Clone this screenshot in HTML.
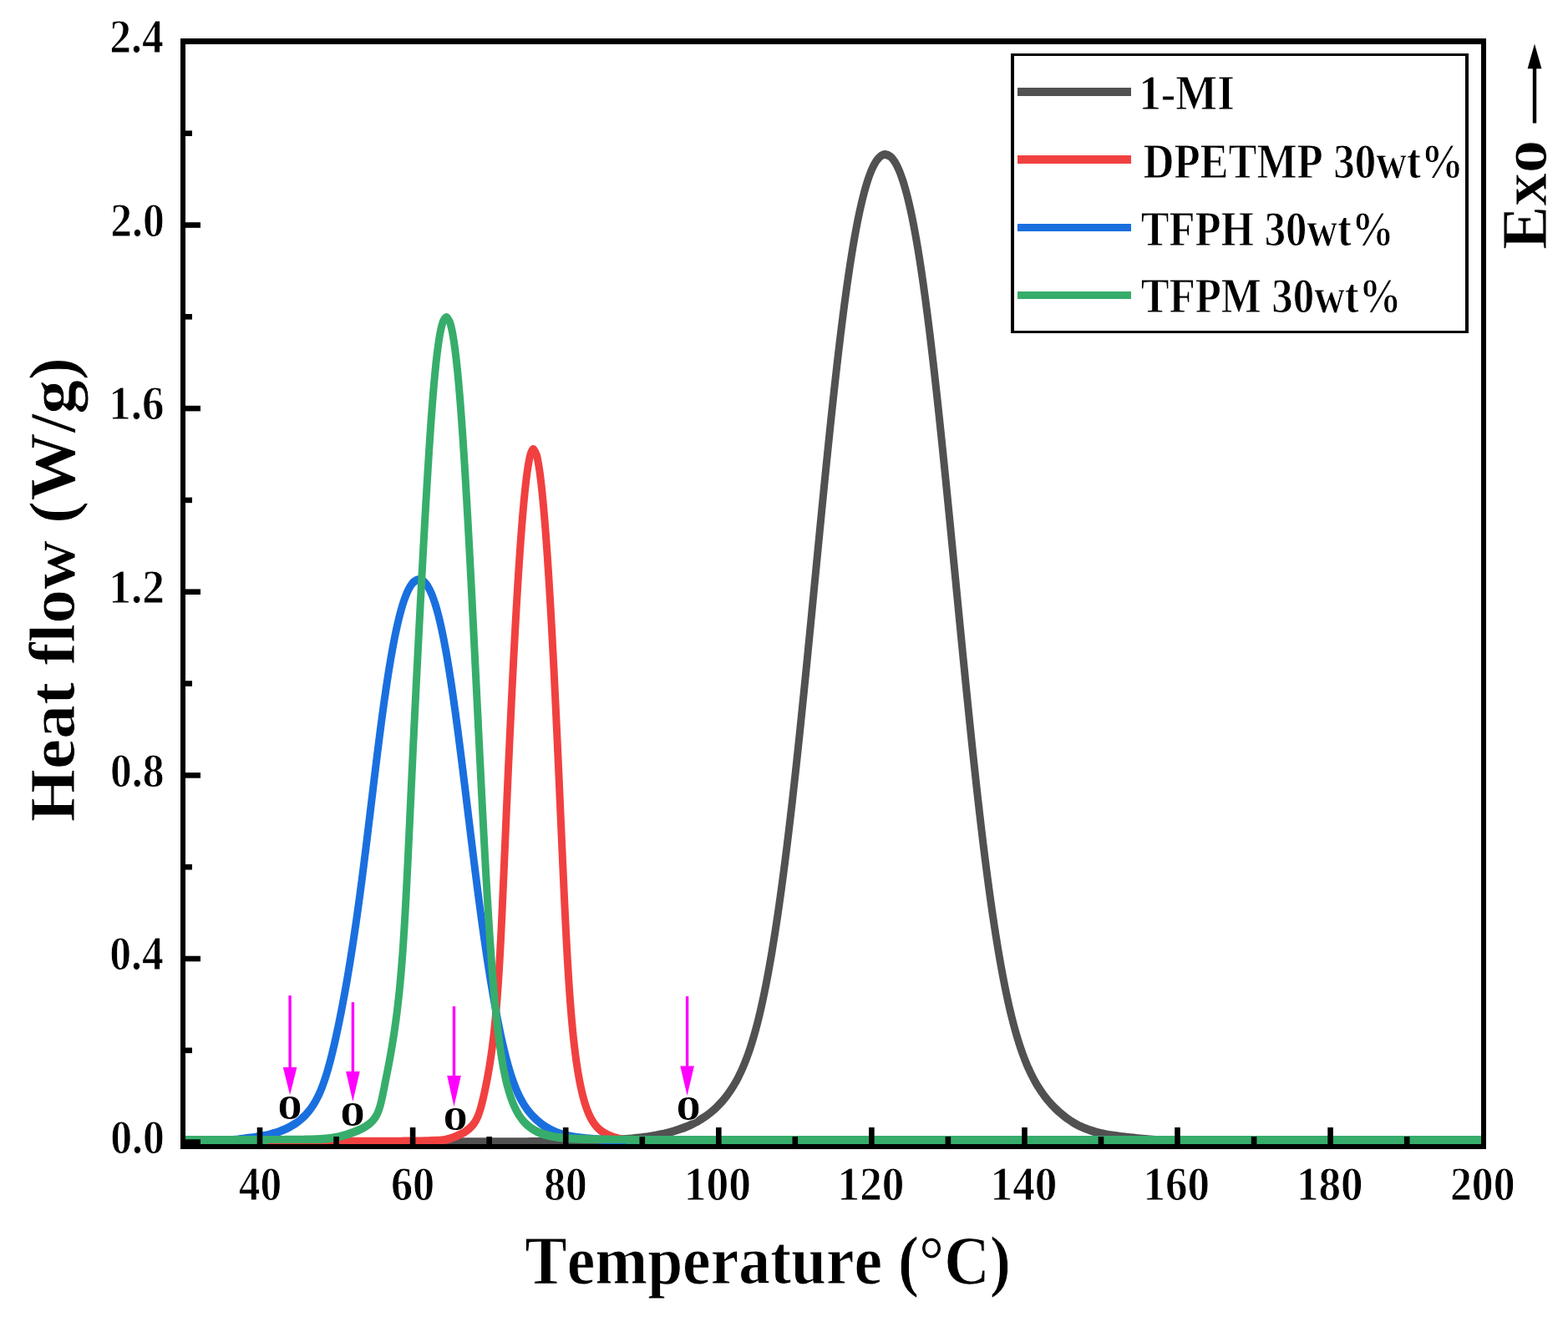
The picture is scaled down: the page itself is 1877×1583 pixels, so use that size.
<!DOCTYPE html>
<html lang="en">
<head>
<meta charset="utf-8">
<title>DSC heat flow curves</title>
<style>
html,body{margin:0;padding:0;background:#fff;}
body{width:1877px;height:1583px;overflow:hidden;}
svg{display:block;}
text{font-family:"Liberation Serif", serif;font-weight:bold;fill:#000;font-kerning:none;font-variant-ligatures:none;}
</style>
</head>
<body>
<svg width="1877" height="1583" viewBox="0 0 1877 1583">
<rect x="0" y="0" width="1877" height="1583" fill="#fff"/>
<clipPath id="plotclip"><rect x="222" y="53" width="1551" height="1320"/></clipPath>
<clipPath id="greenclip"><rect x="0" y="0" width="1877" height="1233.333"/><rect x="0" y="1233.323" width="321" height="20"/><rect x="749" y="1233.323" width="1128" height="20"/></clipPath>
<g clip-path="url(#plotclip)"><g transform="scale(1 1.1100)" fill="none" stroke-width="9.0" stroke-linejoin="round" stroke-linecap="butt">
<path stroke="#515151" d="M210.00 1231.71 C211.00 1231.71 214.00 1231.71 216.00 1231.71 C218.00 1231.71 220.01 1231.71 222.01 1231.71 C224.01 1231.71 226.01 1231.71 228.01 1231.71 C230.01 1231.71 232.01 1231.71 234.01 1231.71 C236.02 1231.71 238.02 1231.71 240.02 1231.71 C242.02 1231.71 244.02 1231.71 246.02 1231.71 C248.02 1231.71 250.02 1231.71 252.03 1231.71 C254.03 1231.71 256.03 1231.71 258.03 1231.71 C260.03 1231.71 262.03 1231.71 264.03 1231.71 C266.03 1231.71 268.03 1231.71 270.04 1231.71 C272.04 1231.71 274.04 1231.71 276.04 1231.71 C278.04 1231.71 280.04 1231.71 282.04 1231.71 C284.04 1231.71 286.05 1231.71 288.05 1231.71 C290.05 1231.71 292.05 1231.71 294.05 1231.71 C296.05 1231.71 298.05 1231.71 300.05 1231.71 C302.06 1231.71 304.06 1231.71 306.06 1231.71 C308.06 1231.71 310.06 1231.71 312.06 1231.71 C314.06 1231.71 316.06 1231.71 318.07 1231.71 C320.07 1231.71 322.07 1231.71 324.07 1231.71 C326.07 1231.71 328.07 1231.71 330.07 1231.71 C332.07 1231.71 334.07 1231.71 336.08 1231.71 C338.08 1231.71 340.08 1231.71 342.08 1231.71 C344.08 1231.71 346.08 1231.71 348.08 1231.71 C350.08 1231.71 352.09 1231.71 354.09 1231.71 C356.09 1231.71 358.09 1231.71 360.09 1231.71 C362.09 1231.71 364.09 1231.71 366.09 1231.71 C368.10 1231.71 370.10 1231.71 372.10 1231.71 C374.10 1231.71 376.10 1231.71 378.10 1231.71 C380.10 1231.71 382.10 1231.71 384.10 1231.71 C386.11 1231.71 388.11 1231.71 390.11 1231.71 C392.11 1231.71 394.11 1231.71 396.11 1231.71 C398.11 1231.71 400.11 1231.71 402.12 1231.71 C404.12 1231.71 406.12 1231.71 408.12 1231.71 C410.12 1231.71 412.12 1231.71 414.12 1231.71 C416.12 1231.71 418.13 1231.71 420.13 1231.71 C422.13 1231.71 424.13 1231.71 426.13 1231.71 C428.13 1231.71 430.13 1231.71 432.13 1231.71 C434.13 1231.71 436.14 1231.71 438.14 1231.71 C440.14 1231.71 442.14 1231.71 444.14 1231.71 C446.14 1231.71 448.14 1231.71 450.14 1231.71 C452.15 1231.71 454.15 1231.71 456.15 1231.71 C458.15 1231.71 460.15 1231.71 462.15 1231.71 C464.15 1231.71 466.15 1231.71 468.16 1231.71 C470.16 1231.71 472.16 1231.71 474.16 1231.71 C476.16 1231.71 478.16 1231.71 480.16 1231.71 C482.16 1231.71 484.16 1231.71 486.17 1231.71 C488.17 1231.71 490.17 1231.71 492.17 1231.71 C494.17 1231.71 496.17 1231.71 498.17 1231.71 C500.17 1231.71 502.18 1231.71 504.18 1231.71 C506.18 1231.71 508.18 1231.71 510.18 1231.71 C512.18 1231.71 514.18 1231.71 516.18 1231.71 C518.19 1231.71 520.19 1231.71 522.19 1231.71 C524.19 1231.71 526.19 1231.71 528.19 1231.71 C530.19 1231.71 532.19 1231.71 534.20 1231.71 C536.20 1231.71 538.20 1231.71 540.20 1231.71 C542.20 1231.71 544.20 1231.71 546.20 1231.71 C548.20 1231.71 550.20 1231.71 552.21 1231.71 C554.21 1231.71 556.21 1231.71 558.21 1231.71 C560.21 1231.71 562.21 1231.71 564.21 1231.71 C566.21 1231.71 568.22 1231.71 570.22 1231.71 C572.22 1231.71 574.22 1231.71 576.22 1231.71 C578.22 1231.71 580.22 1231.71 582.22 1231.71 C584.23 1231.71 586.23 1231.71 588.23 1231.71 C590.23 1231.71 592.23 1231.71 594.23 1231.71 C596.23 1231.71 598.23 1231.71 600.23 1231.71 C602.24 1231.71 604.24 1231.71 606.24 1231.71 C608.24 1231.71 610.24 1231.71 612.24 1231.71 C614.24 1231.71 616.24 1231.71 618.25 1231.71 C620.25 1231.71 622.25 1231.71 624.25 1231.70 C626.25 1231.69 628.25 1231.67 630.25 1231.65 C632.25 1231.63 634.25 1231.61 636.26 1231.59 C638.26 1231.58 640.26 1231.56 642.26 1231.54 C644.26 1231.52 646.26 1231.50 648.26 1231.49 C650.26 1231.47 652.26 1231.45 654.27 1231.43 C656.27 1231.42 658.27 1231.40 660.27 1231.39 C662.27 1231.37 664.27 1231.35 666.27 1231.34 C668.27 1231.32 670.28 1231.30 672.28 1231.28 C674.28 1231.25 676.28 1231.23 678.28 1231.20 C680.28 1231.18 682.28 1231.15 684.28 1231.12 C686.28 1231.09 688.28 1231.06 690.29 1231.03 C692.29 1231.00 694.29 1230.96 696.29 1230.92 C698.29 1230.88 700.29 1230.84 702.29 1230.80 C704.29 1230.75 706.29 1230.70 708.29 1230.65 C710.29 1230.60 712.29 1230.55 714.29 1230.49 C716.29 1230.43 718.29 1230.36 720.29 1230.29 C722.29 1230.22 724.29 1230.15 726.29 1230.07 C728.29 1229.99 730.29 1229.90 732.29 1229.81 C734.29 1229.72 736.29 1229.62 738.29 1229.52 C740.29 1229.41 742.28 1229.30 744.28 1229.17 C746.28 1229.05 748.28 1228.92 750.27 1228.77 C752.27 1228.63 754.26 1228.48 756.26 1228.31 C758.25 1228.14 760.25 1227.97 762.24 1227.77 C764.23 1227.58 766.22 1227.37 768.21 1227.15 C770.20 1226.92 772.18 1226.68 774.17 1226.43 C776.15 1226.17 778.13 1225.89 780.11 1225.60 C782.09 1225.30 784.07 1224.99 786.04 1224.65 C788.01 1224.31 789.98 1223.95 791.95 1223.57 C793.91 1223.18 795.87 1222.78 797.83 1222.35 C799.78 1221.91 801.73 1221.46 803.67 1220.97 C805.61 1220.48 807.54 1219.96 809.47 1219.42 C811.39 1218.87 813.31 1218.29 815.21 1217.67 C817.12 1217.06 819.01 1216.41 820.89 1215.72 C822.77 1215.03 824.64 1214.31 826.48 1213.54 C828.33 1212.77 830.16 1211.97 831.97 1211.12 C833.79 1210.27 835.58 1209.37 837.35 1208.44 C839.11 1207.50 840.86 1206.52 842.57 1205.49 C844.29 1204.46 845.98 1203.38 847.63 1202.25 C849.29 1201.13 850.91 1199.96 852.50 1198.75 C854.10 1197.54 855.67 1196.29 857.19 1194.99 C858.71 1193.70 860.19 1192.35 861.64 1190.96 C863.08 1189.58 864.50 1188.17 865.87 1186.71 C867.24 1185.25 868.57 1183.75 869.86 1182.22 C871.15 1180.69 872.40 1179.13 873.61 1177.54 C874.82 1175.95 876.00 1174.32 877.14 1172.68 C878.27 1171.03 879.37 1169.36 880.44 1167.66 C881.50 1165.97 882.53 1164.25 883.52 1162.52 C884.52 1160.78 885.48 1159.02 886.41 1157.25 C887.34 1155.48 888.23 1153.69 889.10 1151.89 C889.98 1150.09 890.81 1148.27 891.63 1146.44 C892.45 1144.61 893.23 1142.77 894.00 1140.93 C894.77 1139.08 895.51 1137.22 896.24 1135.35 C896.96 1133.49 897.66 1131.61 898.34 1129.73 C899.02 1127.85 899.69 1125.96 900.33 1124.07 C900.98 1122.18 901.61 1120.28 902.23 1118.37 C902.85 1116.47 903.45 1114.56 904.03 1112.65 C904.62 1110.73 905.19 1108.82 905.75 1106.89 C906.31 1104.97 906.86 1103.05 907.40 1101.12 C907.94 1099.19 908.46 1097.26 908.98 1095.33 C909.50 1093.40 910.00 1091.46 910.50 1089.52 C910.99 1087.58 911.48 1085.64 911.96 1083.70 C912.44 1081.75 912.91 1079.81 913.37 1077.86 C913.83 1075.92 914.29 1073.97 914.74 1072.02 C915.18 1070.07 915.62 1068.11 916.06 1066.16 C916.49 1064.21 916.92 1062.25 917.34 1060.30 C917.76 1058.34 918.18 1056.38 918.59 1054.42 C919.00 1052.46 919.40 1050.50 919.80 1048.54 C920.20 1046.58 920.60 1044.62 920.98 1042.66 C921.37 1040.69 921.76 1038.73 922.14 1036.77 C922.52 1034.80 922.90 1032.83 923.27 1030.87 C923.64 1028.90 924.01 1026.93 924.37 1024.97 C924.73 1023.00 925.09 1021.03 925.45 1019.06 C925.81 1017.09 926.16 1015.12 926.51 1013.15 C926.86 1011.18 927.20 1009.21 927.55 1007.24 C927.89 1005.27 928.23 1003.29 928.57 1001.32 C928.90 999.35 929.24 997.38 929.57 995.40 C929.90 993.43 930.23 991.45 930.55 989.48 C930.88 987.51 931.20 985.53 931.52 983.55 C931.84 981.58 932.16 979.60 932.47 977.63 C932.78 975.65 933.10 973.67 933.41 971.70 C933.72 969.72 934.02 967.74 934.33 965.76 C934.63 963.79 934.94 961.81 935.24 959.83 C935.54 957.85 935.84 955.87 936.13 953.89 C936.43 951.91 936.72 949.94 937.02 947.96 C937.31 945.98 937.60 944.00 937.89 942.02 C938.18 940.04 938.46 938.06 938.75 936.07 C939.03 934.09 939.32 932.11 939.60 930.13 C939.88 928.15 940.16 926.17 940.44 924.19 C940.72 922.20 940.99 920.22 941.27 918.24 C941.54 916.26 941.82 914.28 942.09 912.29 C942.36 910.31 942.63 908.33 942.90 906.34 C943.17 904.36 943.44 902.38 943.70 900.39 C943.97 898.41 944.23 896.43 944.50 894.44 C944.76 892.46 945.02 890.48 945.28 888.49 C945.54 886.51 945.80 884.52 946.06 882.54 C946.32 880.55 946.58 878.57 946.83 876.59 C947.09 874.60 947.35 872.62 947.60 870.63 C947.85 868.65 948.11 866.66 948.36 864.68 C948.61 862.69 948.86 860.70 949.11 858.72 C949.36 856.73 949.61 854.75 949.85 852.76 C950.10 850.78 950.35 848.79 950.59 846.80 C950.84 844.82 951.08 842.83 951.33 840.85 C951.57 838.86 951.81 836.87 952.06 834.89 C952.30 832.90 952.54 830.91 952.78 828.93 C953.02 826.94 953.26 824.95 953.50 822.97 C953.73 820.98 953.97 818.99 954.21 817.00 C954.45 815.02 954.68 813.03 954.92 811.04 C955.15 809.06 955.39 807.07 955.62 805.08 C955.86 803.09 956.09 801.11 956.32 799.12 C956.56 797.13 956.79 795.14 957.02 793.15 C957.25 791.17 957.48 789.18 957.71 787.19 C957.94 785.20 958.17 783.22 958.40 781.23 C958.63 779.24 958.86 777.25 959.09 775.26 C959.31 773.27 959.54 771.29 959.77 769.30 C960.00 767.31 960.22 765.32 960.45 763.33 C960.67 761.34 960.90 759.36 961.12 757.37 C961.35 755.38 961.57 753.39 961.80 751.40 C962.02 749.41 962.24 747.42 962.47 745.44 C962.69 743.45 962.91 741.46 963.14 739.47 C963.36 737.48 963.58 735.49 963.80 733.50 C964.02 731.51 964.24 729.53 964.47 727.54 C964.69 725.55 964.91 723.56 965.13 721.57 C965.35 719.58 965.57 717.59 965.79 715.60 C966.01 713.61 966.22 711.62 966.44 709.63 C966.66 707.65 966.88 705.66 967.10 703.67 C967.32 701.68 967.54 699.69 967.75 697.70 C967.97 695.71 968.19 693.72 968.41 691.73 C968.62 689.74 968.84 687.75 969.06 685.76 C969.28 683.77 969.49 681.78 969.71 679.79 C969.92 677.80 970.14 675.82 970.36 673.83 C970.57 671.84 970.79 669.85 971.01 667.86 C971.22 665.87 971.44 663.88 971.65 661.89 C971.87 659.90 972.08 657.91 972.30 655.92 C972.51 653.93 972.73 651.94 972.95 649.95 C973.16 647.96 973.38 645.97 973.59 643.98 C973.81 641.99 974.02 640.00 974.24 638.01 C974.45 636.02 974.67 634.03 974.88 632.04 C975.09 630.06 975.31 628.07 975.52 626.08 C975.74 624.09 975.95 622.10 976.17 620.11 C976.38 618.12 976.60 616.13 976.81 614.14 C977.03 612.15 977.24 610.16 977.46 608.17 C977.67 606.18 977.89 604.19 978.10 602.20 C978.32 600.21 978.53 598.22 978.75 596.23 C978.96 594.24 979.18 592.25 979.39 590.26 C979.61 588.27 979.82 586.28 980.04 584.29 C980.26 582.30 980.47 580.31 980.69 578.33 C980.90 576.34 981.12 574.35 981.34 572.36 C981.55 570.37 981.77 568.38 981.98 566.39 C982.20 564.40 982.42 562.41 982.64 560.42 C982.85 558.43 983.07 556.44 983.29 554.45 C983.50 552.46 983.72 550.47 983.94 548.48 C984.16 546.49 984.38 544.51 984.59 542.52 C984.81 540.53 985.03 538.54 985.25 536.55 C985.47 534.56 985.69 532.57 985.91 530.58 C986.13 528.59 986.35 526.60 986.57 524.61 C986.79 522.62 987.01 520.64 987.23 518.65 C987.45 516.66 987.67 514.67 987.90 512.68 C988.12 510.69 988.34 508.70 988.56 506.71 C988.79 504.73 989.01 502.74 989.23 500.75 C989.46 498.76 989.68 496.77 989.91 494.78 C990.13 492.79 990.36 490.80 990.58 488.82 C990.81 486.83 991.03 484.84 991.26 482.85 C991.49 480.86 991.71 478.87 991.94 476.89 C992.17 474.90 992.40 472.91 992.63 470.92 C992.86 468.93 993.09 466.95 993.32 464.96 C993.55 462.97 993.78 460.98 994.01 458.99 C994.24 457.01 994.48 455.02 994.71 453.03 C994.94 451.04 995.18 449.06 995.41 447.07 C995.65 445.08 995.88 443.09 996.12 441.11 C996.36 439.12 996.59 437.13 996.83 435.15 C997.07 433.16 997.31 431.17 997.55 429.19 C997.79 427.20 998.03 425.21 998.27 423.23 C998.51 421.24 998.76 419.25 999.00 417.27 C999.24 415.28 999.49 413.29 999.73 411.31 C999.98 409.32 1000.23 407.34 1000.48 405.35 C1000.72 403.36 1000.97 401.38 1001.22 399.39 C1001.47 397.41 1001.73 395.42 1001.98 393.44 C1002.23 391.45 1002.49 389.47 1002.74 387.48 C1003.00 385.50 1003.25 383.51 1003.51 381.53 C1003.77 379.54 1004.03 377.56 1004.29 375.58 C1004.55 373.59 1004.82 371.61 1005.08 369.62 C1005.34 367.64 1005.61 365.66 1005.88 363.67 C1006.15 361.69 1006.41 359.71 1006.69 357.73 C1006.96 355.74 1007.23 353.76 1007.50 351.78 C1007.78 349.80 1008.05 347.81 1008.33 345.83 C1008.61 343.85 1008.89 341.87 1009.17 339.89 C1009.46 337.91 1009.74 335.92 1010.03 333.94 C1010.31 331.96 1010.60 329.98 1010.90 328.00 C1011.19 326.02 1011.48 324.04 1011.78 322.07 C1012.07 320.09 1012.37 318.11 1012.67 316.13 C1012.98 314.15 1013.28 312.17 1013.59 310.20 C1013.90 308.22 1014.21 306.24 1014.52 304.26 C1014.83 302.29 1015.15 300.31 1015.47 298.34 C1015.79 296.36 1016.12 294.39 1016.44 292.41 C1016.77 290.44 1017.10 288.46 1017.44 286.49 C1017.77 284.52 1018.11 282.55 1018.46 280.57 C1018.80 278.60 1019.15 276.63 1019.50 274.66 C1019.85 272.69 1020.21 270.72 1020.57 268.76 C1020.93 266.79 1021.30 264.82 1021.68 262.85 C1022.05 260.89 1022.43 258.92 1022.81 256.96 C1023.20 255.00 1023.59 253.03 1023.99 251.07 C1024.39 249.11 1024.79 247.15 1025.21 245.19 C1025.62 243.24 1026.04 241.28 1026.47 239.32 C1026.90 237.37 1027.34 235.42 1027.79 233.47 C1028.23 231.52 1028.69 229.57 1029.16 227.62 C1029.63 225.68 1030.11 223.73 1030.60 221.79 C1031.10 219.86 1031.60 217.92 1032.12 215.99 C1032.64 214.05 1033.18 212.13 1033.73 210.20 C1034.29 208.28 1034.85 206.36 1035.45 204.45 C1036.04 202.54 1036.65 200.63 1037.30 198.74 C1037.94 196.84 1038.60 194.95 1039.31 193.08 C1040.01 191.21 1040.74 189.34 1041.52 187.50 C1042.31 185.66 1043.12 183.83 1044.02 182.04 C1044.92 180.26 1045.84 178.47 1046.91 176.78 C1047.97 175.10 1049.07 173.38 1050.41 171.91 C1051.74 170.44 1053.36 168.87 1054.91 167.98 C1056.46 167.09 1057.84 166.40 1059.70 166.58 C1061.56 166.76 1064.31 167.92 1066.06 169.05 C1067.80 170.19 1068.95 171.83 1070.19 173.39 C1071.42 174.95 1072.46 176.69 1073.46 178.42 C1074.46 180.14 1075.35 181.94 1076.21 183.75 C1077.07 185.56 1077.85 187.40 1078.61 189.25 C1079.36 191.11 1080.07 192.98 1080.75 194.86 C1081.44 196.74 1082.08 198.64 1082.71 200.54 C1083.33 202.44 1083.93 204.35 1084.51 206.26 C1085.09 208.18 1085.65 210.10 1086.19 212.03 C1086.73 213.95 1087.26 215.88 1087.77 217.82 C1088.28 219.75 1088.78 221.69 1089.26 223.63 C1089.75 225.58 1090.22 227.52 1090.68 229.47 C1091.14 231.41 1091.59 233.36 1092.04 235.32 C1092.48 237.27 1092.91 239.22 1093.33 241.18 C1093.76 243.13 1094.17 245.09 1094.58 247.05 C1094.99 249.01 1095.39 250.97 1095.78 252.93 C1096.18 254.89 1096.57 256.86 1096.95 258.82 C1097.33 260.79 1097.70 262.75 1098.07 264.72 C1098.44 266.69 1098.81 268.65 1099.17 270.62 C1099.52 272.59 1099.88 274.56 1100.23 276.53 C1100.58 278.50 1100.92 280.47 1101.26 282.45 C1101.60 284.42 1101.94 286.39 1102.27 288.36 C1102.60 290.34 1102.93 292.31 1103.26 294.29 C1103.58 296.26 1103.90 298.24 1104.22 300.21 C1104.54 302.19 1104.85 304.16 1105.17 306.14 C1105.48 308.12 1105.79 310.09 1106.09 312.07 C1106.40 314.05 1106.70 316.03 1107.00 318.01 C1107.30 319.99 1107.60 321.96 1107.89 323.94 C1108.19 325.92 1108.48 327.90 1108.77 329.88 C1109.06 331.86 1109.35 333.84 1109.63 335.82 C1109.92 337.80 1110.20 339.79 1110.48 341.77 C1110.76 343.75 1111.04 345.73 1111.32 347.71 C1111.59 349.69 1111.87 351.68 1112.14 353.66 C1112.42 355.64 1112.69 357.62 1112.96 359.61 C1113.23 361.59 1113.50 363.57 1113.76 365.56 C1114.03 367.54 1114.29 369.52 1114.56 371.51 C1114.82 373.49 1115.08 375.48 1115.34 377.46 C1115.60 379.44 1115.86 381.43 1116.12 383.41 C1116.38 385.40 1116.63 387.38 1116.89 389.37 C1117.14 391.35 1117.40 393.34 1117.65 395.32 C1117.90 397.31 1118.15 399.29 1118.40 401.28 C1118.65 403.26 1118.90 405.25 1119.15 407.23 C1119.40 409.22 1119.64 411.21 1119.89 413.19 C1120.13 415.18 1120.38 417.17 1120.62 419.15 C1120.87 421.14 1121.11 423.12 1121.35 425.11 C1121.59 427.10 1121.83 429.08 1122.07 431.07 C1122.31 433.06 1122.55 435.04 1122.79 437.03 C1123.03 439.02 1123.26 441.01 1123.50 442.99 C1123.74 444.98 1123.97 446.97 1124.21 448.95 C1124.44 450.94 1124.67 452.93 1124.91 454.92 C1125.14 456.90 1125.37 458.89 1125.61 460.88 C1125.84 462.87 1126.07 464.86 1126.30 466.84 C1126.53 468.83 1126.76 470.82 1126.99 472.81 C1127.22 474.80 1127.45 476.78 1127.67 478.77 C1127.90 480.76 1128.13 482.75 1128.36 484.74 C1128.58 486.72 1128.81 488.71 1129.04 490.70 C1129.26 492.69 1129.49 494.68 1129.71 496.67 C1129.94 498.66 1130.16 500.64 1130.39 502.63 C1130.61 504.62 1130.83 506.61 1131.06 508.60 C1131.28 510.59 1131.50 512.58 1131.72 514.56 C1131.95 516.55 1132.17 518.54 1132.39 520.53 C1132.61 522.52 1132.83 524.51 1133.05 526.50 C1133.27 528.49 1133.49 530.48 1133.71 532.47 C1133.93 534.45 1134.15 536.44 1134.37 538.43 C1134.59 540.42 1134.81 542.41 1135.03 544.40 C1135.25 546.39 1135.47 548.38 1135.69 550.37 C1135.90 552.36 1136.12 554.35 1136.34 556.34 C1136.56 558.33 1136.78 560.31 1136.99 562.30 C1137.21 564.29 1137.43 566.28 1137.64 568.27 C1137.86 570.26 1138.08 572.25 1138.30 574.24 C1138.51 576.23 1138.73 578.22 1138.94 580.21 C1139.16 582.20 1139.38 584.19 1139.59 586.18 C1139.81 588.17 1140.02 590.16 1140.24 592.15 C1140.46 594.14 1140.67 596.12 1140.89 598.11 C1141.10 600.10 1141.32 602.09 1141.53 604.08 C1141.75 606.07 1141.96 608.06 1142.18 610.05 C1142.40 612.04 1142.61 614.03 1142.83 616.02 C1143.04 618.01 1143.26 620.00 1143.47 621.99 C1143.69 623.98 1143.90 625.97 1144.12 627.96 C1144.33 629.95 1144.55 631.94 1144.76 633.93 C1144.98 635.92 1145.19 637.91 1145.41 639.90 C1145.62 641.89 1145.84 643.88 1146.05 645.86 C1146.27 647.85 1146.48 649.84 1146.70 651.83 C1146.92 653.82 1147.13 655.81 1147.35 657.80 C1147.56 659.79 1147.78 661.78 1147.99 663.77 C1148.21 665.76 1148.43 667.75 1148.64 669.74 C1148.86 671.73 1149.07 673.72 1149.29 675.71 C1149.51 677.70 1149.72 679.69 1149.94 681.68 C1150.16 683.67 1150.37 685.66 1150.59 687.64 C1150.81 689.63 1151.02 691.62 1151.24 693.61 C1151.46 695.60 1151.68 697.59 1151.90 699.58 C1152.11 701.57 1152.33 703.56 1152.55 705.55 C1152.77 707.54 1152.99 709.53 1153.20 711.52 C1153.42 713.51 1153.64 715.49 1153.86 717.48 C1154.08 719.47 1154.30 721.46 1154.52 723.45 C1154.74 725.44 1154.96 727.43 1155.18 729.42 C1155.40 731.41 1155.62 733.40 1155.84 735.39 C1156.07 737.37 1156.29 739.36 1156.51 741.35 C1156.73 743.34 1156.95 745.33 1157.18 747.32 C1157.40 749.31 1157.62 751.30 1157.85 753.28 C1158.07 755.27 1158.29 757.26 1158.52 759.25 C1158.74 761.24 1158.97 763.23 1159.19 765.22 C1159.42 767.20 1159.64 769.19 1159.87 771.18 C1160.09 773.17 1160.32 775.16 1160.55 777.15 C1160.78 779.13 1161.00 781.12 1161.23 783.11 C1161.46 785.10 1161.69 787.09 1161.92 789.07 C1162.15 791.06 1162.38 793.05 1162.61 795.04 C1162.84 797.03 1163.07 799.01 1163.30 801.00 C1163.54 802.99 1163.77 804.98 1164.00 806.97 C1164.23 808.95 1164.47 810.94 1164.70 812.93 C1164.94 814.91 1165.17 816.90 1165.41 818.89 C1165.65 820.88 1165.88 822.86 1166.12 824.85 C1166.36 826.84 1166.60 828.82 1166.84 830.81 C1167.08 832.80 1167.32 834.79 1167.56 836.77 C1167.80 838.76 1168.04 840.75 1168.28 842.73 C1168.52 844.72 1168.77 846.70 1169.01 848.69 C1169.26 850.68 1169.50 852.66 1169.75 854.65 C1170.00 856.63 1170.24 858.62 1170.49 860.61 C1170.74 862.59 1170.99 864.58 1171.24 866.56 C1171.49 868.55 1171.74 870.53 1172.00 872.52 C1172.25 874.50 1172.50 876.49 1172.76 878.47 C1173.01 880.46 1173.27 882.44 1173.53 884.43 C1173.78 886.41 1174.04 888.40 1174.30 890.38 C1174.56 892.37 1174.82 894.35 1175.09 896.33 C1175.35 898.32 1175.61 900.30 1175.88 902.28 C1176.14 904.27 1176.41 906.25 1176.68 908.23 C1176.95 910.22 1177.22 912.20 1177.49 914.18 C1177.76 916.17 1178.03 918.15 1178.31 920.13 C1178.58 922.11 1178.86 924.10 1179.14 926.08 C1179.42 928.06 1179.69 930.04 1179.98 932.02 C1180.26 934.00 1180.54 935.98 1180.83 937.96 C1181.11 939.95 1181.40 941.93 1181.69 943.91 C1181.97 945.89 1182.27 947.87 1182.56 949.85 C1182.85 951.83 1183.15 953.81 1183.44 955.78 C1183.74 957.76 1184.04 959.74 1184.34 961.72 C1184.64 963.70 1184.95 965.68 1185.25 967.65 C1185.56 969.63 1185.87 971.61 1186.18 973.59 C1186.49 975.56 1186.80 977.54 1187.12 979.52 C1187.43 981.49 1187.75 983.47 1188.07 985.44 C1188.40 987.42 1188.72 989.39 1189.05 991.37 C1189.37 993.34 1189.71 995.32 1190.04 997.29 C1190.37 999.26 1190.71 1001.23 1191.05 1003.21 C1191.39 1005.18 1191.73 1007.15 1192.08 1009.12 C1192.42 1011.09 1192.77 1013.06 1193.13 1015.03 C1193.48 1017.00 1193.84 1018.97 1194.20 1020.94 C1194.56 1022.91 1194.92 1024.88 1195.29 1026.84 C1195.66 1028.81 1196.04 1030.78 1196.41 1032.74 C1196.79 1034.71 1197.17 1036.67 1197.56 1038.63 C1197.95 1040.60 1198.34 1042.56 1198.74 1044.52 C1199.13 1046.48 1199.54 1048.44 1199.94 1050.40 C1200.35 1052.36 1200.76 1054.32 1201.18 1056.28 C1201.60 1058.23 1202.03 1060.19 1202.46 1062.14 C1202.89 1064.10 1203.33 1066.05 1203.77 1068.00 C1204.22 1069.95 1204.67 1071.90 1205.13 1073.85 C1205.59 1075.80 1206.06 1077.74 1206.54 1079.69 C1207.01 1081.63 1207.49 1083.57 1207.99 1085.51 C1208.48 1087.45 1208.98 1089.39 1209.50 1091.32 C1210.01 1093.26 1210.53 1095.19 1211.06 1097.12 C1211.59 1099.05 1212.14 1100.97 1212.69 1102.90 C1213.25 1104.82 1213.81 1106.74 1214.39 1108.65 C1214.97 1110.57 1215.57 1112.48 1216.17 1114.39 C1216.78 1116.29 1217.40 1118.20 1218.04 1120.09 C1218.68 1121.99 1219.33 1123.88 1220.00 1125.77 C1220.67 1127.65 1221.36 1129.53 1222.07 1131.40 C1222.77 1133.28 1223.50 1135.14 1224.25 1137.00 C1225.00 1138.85 1225.76 1140.70 1226.56 1142.54 C1227.35 1144.38 1228.16 1146.20 1229.01 1148.02 C1229.85 1149.83 1230.72 1151.64 1231.62 1153.43 C1232.52 1155.21 1233.44 1156.99 1234.40 1158.74 C1235.36 1160.50 1236.35 1162.24 1237.38 1163.96 C1238.40 1165.68 1239.45 1167.38 1240.54 1169.06 C1241.63 1170.74 1242.75 1172.40 1243.91 1174.03 C1245.07 1175.66 1246.26 1177.27 1247.49 1178.84 C1248.72 1180.42 1249.99 1181.97 1251.29 1183.49 C1252.60 1185.01 1253.93 1186.50 1255.30 1187.96 C1256.67 1189.42 1258.08 1190.85 1259.52 1192.23 C1260.96 1193.62 1262.44 1194.97 1263.95 1196.28 C1265.46 1197.60 1266.99 1198.89 1268.56 1200.13 C1270.13 1201.37 1271.74 1202.56 1273.37 1203.72 C1274.99 1204.89 1276.64 1206.02 1278.33 1207.10 C1280.01 1208.18 1281.73 1209.22 1283.47 1210.20 C1285.21 1211.18 1286.98 1212.12 1288.78 1213.00 C1290.58 1213.88 1292.40 1214.71 1294.25 1215.48 C1296.09 1216.25 1297.96 1216.97 1299.85 1217.64 C1301.73 1218.31 1303.64 1218.92 1305.56 1219.49 C1307.48 1220.06 1309.41 1220.58 1311.35 1221.06 C1313.29 1221.54 1315.25 1221.97 1317.21 1222.38 C1319.17 1222.79 1321.14 1223.15 1323.11 1223.49 C1325.08 1223.84 1327.06 1224.14 1329.04 1224.44 C1331.02 1224.73 1333.00 1225.00 1334.98 1225.26 C1336.97 1225.52 1338.95 1225.76 1340.94 1225.99 C1342.93 1226.21 1344.92 1226.43 1346.91 1226.63 C1348.90 1226.84 1350.89 1227.03 1352.89 1227.22 C1354.88 1227.41 1356.87 1227.58 1358.87 1227.76 C1360.86 1227.93 1362.85 1228.09 1364.85 1228.26 C1366.84 1228.42 1368.84 1228.57 1370.83 1228.73 C1372.83 1228.89 1374.82 1229.04 1376.82 1229.19 C1378.81 1229.35 1380.81 1229.53 1382.80 1229.69 C1384.80 1229.85 1386.79 1230.02 1388.79 1230.15 C1390.78 1230.29 1392.78 1230.39 1394.78 1230.48 C1396.78 1230.58 1398.78 1230.67 1400.78 1230.75 C1402.78 1230.83 1404.78 1230.90 1406.78 1230.96 C1408.78 1231.03 1410.78 1231.08 1412.78 1231.13 C1414.78 1231.18 1416.78 1231.22 1418.78 1231.26 C1420.78 1231.30 1422.78 1231.33 1424.79 1231.36 C1426.79 1231.39 1428.79 1231.42 1430.79 1231.45 C1432.79 1231.47 1434.79 1231.48 1436.79 1231.50 C1438.79 1231.52 1440.79 1231.54 1442.79 1231.55 C1444.80 1231.57 1446.80 1231.59 1448.80 1231.61 C1450.80 1231.63 1452.80 1231.65 1454.80 1231.66 C1456.80 1231.68 1458.80 1231.70 1460.80 1231.71 C1462.81 1231.72 1464.81 1231.71 1466.81 1231.71 C1468.81 1231.71 1470.81 1231.71 1472.81 1231.71 C1474.81 1231.71 1476.81 1231.71 1478.82 1231.71 C1480.82 1231.71 1482.82 1231.71 1484.82 1231.71 C1486.82 1231.71 1488.82 1231.71 1490.82 1231.71 C1492.82 1231.71 1494.83 1231.71 1496.83 1231.71 C1498.83 1231.71 1500.83 1231.71 1502.83 1231.71 C1504.83 1231.71 1506.83 1231.71 1508.83 1231.71 C1510.84 1231.71 1512.84 1231.71 1514.84 1231.71 C1516.84 1231.71 1518.84 1231.71 1520.84 1231.71 C1522.84 1231.71 1524.84 1231.71 1526.84 1231.71 C1528.85 1231.71 1530.85 1231.71 1532.85 1231.71 C1534.85 1231.71 1536.85 1231.71 1538.85 1231.71 C1540.85 1231.71 1542.85 1231.71 1544.86 1231.71 C1546.86 1231.71 1548.86 1231.71 1550.86 1231.71 C1552.86 1231.71 1554.86 1231.71 1556.86 1231.71 C1558.86 1231.71 1560.87 1231.71 1562.87 1231.71 C1564.87 1231.71 1566.87 1231.71 1568.87 1231.71 C1570.87 1231.71 1572.87 1231.71 1574.87 1231.71 C1576.87 1231.71 1578.88 1231.71 1580.88 1231.71 C1582.88 1231.71 1584.88 1231.71 1586.88 1231.71 C1588.88 1231.71 1590.88 1231.71 1592.88 1231.71 C1594.89 1231.71 1596.89 1231.71 1598.89 1231.71 C1600.89 1231.71 1602.89 1231.71 1604.89 1231.71 C1606.89 1231.71 1608.89 1231.71 1610.90 1231.71 C1612.90 1231.71 1614.90 1231.71 1616.90 1231.71 C1618.90 1231.71 1620.90 1231.71 1622.90 1231.71 C1624.90 1231.71 1626.90 1231.71 1628.91 1231.71 C1630.91 1231.71 1632.91 1231.71 1634.91 1231.71 C1636.91 1231.71 1638.91 1231.71 1640.91 1231.71 C1642.91 1231.71 1644.92 1231.71 1646.92 1231.71 C1648.92 1231.71 1650.92 1231.71 1652.92 1231.71 C1654.92 1231.71 1656.92 1231.71 1658.92 1231.71 C1660.93 1231.71 1662.93 1231.71 1664.93 1231.71 C1666.93 1231.71 1668.93 1231.71 1670.93 1231.71 C1672.93 1231.71 1674.93 1231.71 1676.93 1231.71 C1678.94 1231.71 1680.94 1231.71 1682.94 1231.71 C1684.94 1231.71 1686.94 1231.71 1688.94 1231.71 C1690.94 1231.71 1692.94 1231.71 1694.95 1231.71 C1696.95 1231.71 1698.95 1231.71 1700.95 1231.71 C1702.95 1231.71 1704.95 1231.71 1706.95 1231.71 C1708.95 1231.71 1710.96 1231.71 1712.96 1231.71 C1714.96 1231.71 1716.96 1231.71 1718.96 1231.71 C1720.96 1231.71 1722.96 1231.71 1724.96 1231.71 C1726.97 1231.71 1728.97 1231.71 1730.97 1231.71 C1732.97 1231.71 1734.97 1231.71 1736.97 1231.71 C1738.97 1231.71 1740.97 1231.71 1742.97 1231.71 C1744.98 1231.71 1746.98 1231.71 1748.98 1231.71 C1750.98 1231.71 1752.98 1231.71 1754.98 1231.71 C1756.98 1231.71 1758.98 1231.71 1760.99 1231.71 C1762.99 1231.71 1764.99 1231.71 1766.99 1231.71 C1768.99 1231.71 1770.99 1231.71 1772.99 1231.71 C1774.99 1231.71 1777.00 1231.71 1779.00 1231.71 C1781.00 1231.71 1784.00 1231.71 1785.00 1231.71"/>
<path stroke="#F14040" d="M210.00 1231.26 C211.00 1231.26 214.00 1231.26 216.00 1231.26 C218.00 1231.26 220.00 1231.26 222.00 1231.26 C224.00 1231.26 226.00 1231.26 228.00 1231.26 C230.00 1231.26 232.00 1231.26 234.00 1231.26 C236.00 1231.26 238.00 1231.26 240.00 1231.26 C242.00 1231.26 244.00 1231.26 246.00 1231.26 C248.00 1231.26 250.00 1231.26 252.00 1231.26 C254.00 1231.26 256.00 1231.26 258.00 1231.26 C260.00 1231.26 262.00 1231.26 264.00 1231.26 C266.00 1231.26 268.00 1231.26 270.00 1231.26 C272.00 1231.26 274.00 1231.26 276.00 1231.26 C278.00 1231.26 280.00 1231.26 282.00 1231.26 C284.00 1231.26 286.00 1231.26 288.00 1231.26 C290.00 1231.26 292.00 1231.26 294.00 1231.26 C296.00 1231.26 298.00 1231.26 300.00 1231.26 C302.00 1231.26 304.00 1231.26 306.00 1231.26 C308.00 1231.26 310.00 1231.26 312.00 1231.26 C314.00 1231.26 316.00 1231.26 318.00 1231.26 C320.00 1231.26 322.00 1231.26 324.00 1231.26 C326.00 1231.26 328.00 1231.26 330.00 1231.26 C332.00 1231.26 334.00 1231.26 336.00 1231.26 C338.00 1231.26 339.99 1231.26 341.99 1231.26 C343.99 1231.26 345.99 1231.26 347.99 1231.26 C349.99 1231.26 351.99 1231.26 353.99 1231.26 C355.99 1231.26 357.99 1231.26 359.99 1231.26 C361.99 1231.26 363.99 1231.26 365.99 1231.26 C367.99 1231.26 369.99 1231.26 371.99 1231.26 C373.99 1231.26 375.99 1231.26 377.99 1231.26 C379.99 1231.26 381.99 1231.26 383.99 1231.26 C385.99 1231.26 387.99 1231.26 389.99 1231.26 C391.99 1231.26 393.99 1231.26 395.99 1231.26 C397.99 1231.26 399.99 1231.26 401.99 1231.26 C403.99 1231.26 405.99 1231.26 407.99 1231.26 C409.99 1231.26 411.99 1231.26 413.99 1231.26 C415.99 1231.26 417.99 1231.26 419.99 1231.26 C421.99 1231.26 423.99 1231.26 425.99 1231.26 C427.99 1231.26 429.99 1231.26 431.99 1231.26 C433.99 1231.26 435.99 1231.26 437.99 1231.26 C439.99 1231.26 441.99 1231.26 443.99 1231.26 C445.99 1231.26 447.99 1231.26 449.99 1231.26 C451.99 1231.26 453.99 1231.26 455.99 1231.26 C457.99 1231.26 459.99 1231.26 461.99 1231.26 C463.99 1231.26 465.99 1231.26 467.99 1231.26 C469.99 1231.26 471.99 1231.27 473.99 1231.26 C475.99 1231.25 477.99 1231.22 479.99 1231.20 C481.99 1231.18 483.99 1231.17 485.99 1231.15 C487.99 1231.13 489.99 1231.11 491.99 1231.09 C493.99 1231.08 495.99 1231.06 497.99 1231.04 C499.99 1231.02 501.99 1231.01 503.99 1230.98 C505.99 1230.95 507.99 1230.91 509.99 1230.87 C511.99 1230.82 513.98 1230.77 515.98 1230.71 C517.98 1230.64 519.98 1230.58 521.98 1230.48 C523.98 1230.38 525.98 1230.29 527.97 1230.10 C529.96 1229.90 531.95 1229.69 533.91 1229.33 C535.88 1228.97 537.83 1228.49 539.74 1227.92 C541.66 1227.36 543.54 1226.67 545.41 1225.96 C547.28 1225.25 549.14 1224.50 550.96 1223.67 C552.78 1222.84 554.59 1221.98 556.32 1221.00 C558.06 1220.01 559.77 1218.94 561.35 1217.73 C562.94 1216.52 564.47 1215.20 565.82 1213.74 C567.17 1212.28 568.39 1210.66 569.46 1208.98 C570.53 1207.30 571.42 1205.49 572.26 1203.68 C573.09 1201.86 573.79 1199.98 574.46 1198.10 C575.14 1196.22 575.73 1194.30 576.30 1192.39 C576.88 1190.47 577.40 1188.54 577.91 1186.61 C578.43 1184.68 578.92 1182.74 579.39 1180.80 C579.87 1178.86 580.34 1176.91 580.79 1174.96 C581.24 1173.01 581.69 1171.06 582.12 1169.11 C582.55 1167.16 582.97 1165.20 583.37 1163.24 C583.78 1161.29 584.17 1159.32 584.56 1157.36 C584.94 1155.40 585.31 1153.43 585.67 1151.47 C586.03 1149.50 586.38 1147.53 586.72 1145.56 C587.06 1143.59 587.39 1141.62 587.71 1139.64 C588.03 1137.67 588.33 1135.69 588.64 1133.71 C588.94 1131.74 589.23 1129.76 589.51 1127.78 C589.79 1125.80 590.06 1123.82 590.33 1121.83 C590.59 1119.85 590.85 1117.87 591.10 1115.88 C591.35 1113.90 591.59 1111.92 591.83 1109.93 C592.06 1107.94 592.29 1105.96 592.51 1103.97 C592.73 1101.98 592.95 1099.99 593.16 1098.00 C593.37 1096.01 593.57 1094.02 593.76 1092.03 C593.96 1090.04 594.15 1088.05 594.34 1086.06 C594.52 1084.07 594.70 1082.08 594.87 1080.09 C595.05 1078.09 595.22 1076.10 595.38 1074.11 C595.55 1072.12 595.71 1070.12 595.86 1068.13 C596.02 1066.13 596.17 1064.14 596.32 1062.15 C596.47 1060.15 596.62 1058.16 596.76 1056.16 C596.90 1054.17 597.04 1052.17 597.18 1050.18 C597.31 1048.18 597.45 1046.19 597.58 1044.19 C597.71 1042.19 597.84 1040.20 597.97 1038.20 C598.09 1036.21 598.22 1034.21 598.34 1032.22 C598.46 1030.22 598.58 1028.22 598.70 1026.23 C598.82 1024.23 598.94 1022.23 599.05 1020.24 C599.17 1018.24 599.28 1016.24 599.40 1014.25 C599.51 1012.25 599.62 1010.25 599.73 1008.26 C599.84 1006.26 599.95 1004.26 600.06 1002.27 C600.17 1000.27 600.27 998.27 600.38 996.27 C600.48 994.28 600.59 992.28 600.69 990.28 C600.80 988.29 600.90 986.29 601.00 984.29 C601.10 982.29 601.21 980.30 601.31 978.30 C601.41 976.30 601.51 974.30 601.61 972.31 C601.71 970.31 601.81 968.31 601.91 966.31 C602.00 964.32 602.10 962.32 602.20 960.32 C602.30 958.32 602.39 956.33 602.49 954.33 C602.59 952.33 602.69 950.33 602.78 948.34 C602.88 946.34 602.97 944.34 603.07 942.34 C603.17 940.35 603.26 938.35 603.36 936.35 C603.45 934.35 603.55 932.36 603.64 930.36 C603.74 928.36 603.83 926.36 603.93 924.36 C604.02 922.37 604.12 920.37 604.21 918.37 C604.31 916.37 604.40 914.38 604.50 912.38 C604.59 910.38 604.69 908.38 604.78 906.39 C604.88 904.39 604.97 902.39 605.06 900.39 C605.16 898.40 605.25 896.40 605.35 894.40 C605.44 892.40 605.54 890.40 605.63 888.41 C605.73 886.41 605.83 884.41 605.92 882.41 C606.02 880.42 606.11 878.42 606.21 876.42 C606.30 874.42 606.40 872.43 606.50 870.43 C606.59 868.43 606.69 866.43 606.79 864.44 C606.88 862.44 606.98 860.44 607.08 858.44 C607.17 856.45 607.27 854.45 607.37 852.45 C607.47 850.45 607.56 848.45 607.66 846.46 C607.76 844.46 607.86 842.46 607.96 840.46 C608.06 838.47 608.16 836.47 608.26 834.47 C608.35 832.47 608.45 830.48 608.55 828.48 C608.65 826.48 608.75 824.49 608.85 822.49 C608.95 820.49 609.05 818.49 609.15 816.50 C609.26 814.50 609.36 812.50 609.46 810.50 C609.56 808.51 609.66 806.51 609.76 804.51 C609.87 802.51 609.97 800.52 610.07 798.52 C610.17 796.52 610.28 794.53 610.38 792.53 C610.48 790.53 610.59 788.53 610.69 786.54 C610.79 784.54 610.90 782.54 611.00 780.54 C611.11 778.55 611.21 776.55 611.32 774.55 C611.42 772.56 611.53 770.56 611.63 768.56 C611.74 766.56 611.85 764.57 611.95 762.57 C612.06 760.57 612.17 758.58 612.27 756.58 C612.38 754.58 612.49 752.59 612.60 750.59 C612.71 748.59 612.82 746.59 612.92 744.60 C613.03 742.60 613.14 740.60 613.25 738.61 C613.36 736.61 613.47 734.61 613.59 732.62 C613.70 730.62 613.81 728.62 613.92 726.63 C614.03 724.63 614.14 722.63 614.26 720.64 C614.37 718.64 614.48 716.64 614.60 714.65 C614.71 712.65 614.83 710.65 614.94 708.66 C615.06 706.66 615.17 704.66 615.29 702.67 C615.41 700.67 615.52 698.67 615.64 696.68 C615.76 694.68 615.88 692.68 616.00 690.69 C616.11 688.69 616.23 686.69 616.35 684.70 C616.47 682.70 616.60 680.71 616.72 678.71 C616.84 676.71 616.96 674.72 617.08 672.72 C617.21 670.72 617.33 668.73 617.46 666.73 C617.58 664.74 617.71 662.74 617.83 660.74 C617.96 658.75 618.09 656.75 618.21 654.76 C618.34 652.76 618.47 650.77 618.60 648.77 C618.73 646.77 618.86 644.78 618.99 642.78 C619.13 640.79 619.26 638.79 619.39 636.80 C619.53 634.80 619.66 632.81 619.80 630.81 C619.93 628.81 620.07 626.82 620.21 624.82 C620.35 622.83 620.49 620.83 620.63 618.84 C620.77 616.84 620.91 614.85 621.06 612.85 C621.20 610.86 621.35 608.87 621.49 606.87 C621.64 604.88 621.79 602.88 621.94 600.89 C622.09 598.89 622.24 596.90 622.40 594.91 C622.55 592.91 622.70 590.92 622.86 588.92 C623.02 586.93 623.18 584.94 623.34 582.94 C623.50 580.95 623.67 578.96 623.83 576.96 C624.00 574.97 624.17 572.98 624.34 570.98 C624.51 568.99 624.68 567.00 624.86 565.01 C625.03 563.02 625.21 561.02 625.40 559.03 C625.58 557.04 625.76 555.05 625.95 553.06 C626.14 551.07 626.34 549.08 626.54 547.09 C626.73 545.10 626.93 543.11 627.14 541.12 C627.35 539.13 627.56 537.14 627.78 535.15 C628.00 533.16 628.22 531.18 628.45 529.19 C628.68 527.20 628.92 525.22 629.17 523.23 C629.42 521.25 629.67 519.27 629.94 517.28 C630.21 515.30 630.48 513.32 630.78 511.34 C631.08 509.36 631.38 507.39 631.72 505.42 C632.05 503.44 632.39 501.47 632.79 499.51 C633.18 497.55 633.57 495.59 634.09 493.66 C634.61 491.73 635.16 489.43 635.91 487.95 C636.66 486.46 637.52 484.26 638.60 484.77 C639.68 485.29 641.51 489.04 642.38 491.05 C643.26 493.07 643.41 494.92 643.85 496.87 C644.29 498.82 644.65 500.79 645.01 502.75 C645.37 504.72 645.69 506.69 646.00 508.67 C646.31 510.65 646.60 512.62 646.88 514.61 C647.16 516.59 647.42 518.57 647.68 520.55 C647.94 522.53 648.18 524.52 648.42 526.50 C648.66 528.49 648.89 530.48 649.11 532.46 C649.34 534.45 649.56 536.44 649.77 538.43 C649.98 540.42 650.19 542.41 650.39 544.40 C650.60 546.39 650.79 548.38 650.99 550.37 C651.18 552.36 651.37 554.35 651.56 556.34 C651.75 558.33 651.93 560.32 652.11 562.31 C652.29 564.30 652.47 566.30 652.64 568.29 C652.82 570.28 652.99 572.27 653.16 574.27 C653.32 576.26 653.49 578.25 653.66 580.25 C653.82 582.24 653.98 584.23 654.14 586.23 C654.30 588.22 654.46 590.21 654.62 592.21 C654.77 594.20 654.93 596.19 655.08 598.19 C655.23 600.18 655.38 602.18 655.53 604.17 C655.68 606.17 655.83 608.16 655.97 610.15 C656.12 612.15 656.26 614.14 656.40 616.14 C656.55 618.13 656.69 620.13 656.83 622.12 C656.97 624.12 657.11 626.11 657.24 628.11 C657.38 630.10 657.52 632.10 657.65 634.09 C657.79 636.09 657.92 638.09 658.05 640.08 C658.18 642.08 658.32 644.07 658.45 646.07 C658.58 648.06 658.71 650.06 658.83 652.06 C658.96 654.05 659.09 656.05 659.22 658.04 C659.34 660.04 659.47 662.03 659.59 664.03 C659.72 666.03 659.84 668.02 659.96 670.02 C660.09 672.02 660.21 674.01 660.33 676.01 C660.45 678.00 660.57 680.00 660.69 682.00 C660.81 683.99 660.93 685.99 661.05 687.99 C661.17 689.98 661.29 691.98 661.40 693.97 C661.52 695.97 661.64 697.97 661.75 699.96 C661.87 701.96 661.98 703.96 662.10 705.95 C662.21 707.95 662.33 709.95 662.44 711.94 C662.55 713.94 662.67 715.94 662.78 717.93 C662.89 719.93 663.00 721.93 663.11 723.92 C663.22 725.92 663.33 727.92 663.44 729.92 C663.55 731.91 663.66 733.91 663.77 735.91 C663.88 737.90 663.99 739.90 664.10 741.90 C664.21 743.89 664.31 745.89 664.42 747.89 C664.53 749.89 664.64 751.88 664.74 753.88 C664.85 755.88 664.96 757.87 665.06 759.87 C665.17 761.87 665.27 763.87 665.38 765.86 C665.48 767.86 665.59 769.86 665.69 771.85 C665.80 773.85 665.90 775.85 666.00 777.85 C666.11 779.84 666.21 781.84 666.31 783.84 C666.42 785.83 666.52 787.83 666.62 789.83 C666.72 791.83 666.83 793.82 666.93 795.82 C667.03 797.82 667.13 799.82 667.23 801.81 C667.33 803.81 667.43 805.81 667.53 807.81 C667.64 809.80 667.74 811.80 667.84 813.80 C667.94 815.79 668.04 817.79 668.14 819.79 C668.24 821.79 668.34 823.78 668.44 825.78 C668.54 827.78 668.64 829.78 668.73 831.77 C668.83 833.77 668.93 835.77 669.03 837.77 C669.13 839.76 669.23 841.76 669.33 843.76 C669.43 845.76 669.52 847.75 669.62 849.75 C669.72 851.75 669.82 853.75 669.92 855.74 C670.02 857.74 670.11 859.74 670.21 861.74 C670.31 863.73 670.41 865.73 670.50 867.73 C670.60 869.73 670.70 871.72 670.80 873.72 C670.90 875.72 670.99 877.72 671.09 879.71 C671.19 881.71 671.29 883.71 671.38 885.71 C671.48 887.70 671.58 889.70 671.68 891.70 C671.77 893.70 671.87 895.69 671.97 897.69 C672.07 899.69 672.16 901.69 672.26 903.68 C672.36 905.68 672.46 907.68 672.56 909.68 C672.65 911.67 672.75 913.67 672.85 915.67 C672.95 917.67 673.05 919.66 673.15 921.66 C673.25 923.66 673.34 925.66 673.44 927.65 C673.54 929.65 673.64 931.65 673.74 933.65 C673.84 935.64 673.94 937.64 674.04 939.64 C674.14 941.64 674.24 943.63 674.34 945.63 C674.44 947.63 674.54 949.63 674.65 951.62 C674.75 953.62 674.85 955.62 674.95 957.62 C675.05 959.61 675.16 961.61 675.26 963.61 C675.36 965.60 675.47 967.60 675.57 969.60 C675.68 971.60 675.78 973.59 675.89 975.59 C675.99 977.59 676.10 979.58 676.21 981.58 C676.31 983.58 676.42 985.58 676.53 987.57 C676.64 989.57 676.75 991.57 676.86 993.56 C676.97 995.56 677.08 997.56 677.19 999.55 C677.30 1001.55 677.41 1003.55 677.53 1005.54 C677.64 1007.54 677.76 1009.54 677.87 1011.53 C677.99 1013.53 678.11 1015.53 678.22 1017.52 C678.34 1019.52 678.46 1021.52 678.58 1023.51 C678.71 1025.51 678.83 1027.51 678.95 1029.50 C679.08 1031.50 679.20 1033.49 679.33 1035.49 C679.46 1037.49 679.59 1039.48 679.72 1041.48 C679.85 1043.47 679.98 1045.47 680.12 1047.46 C680.25 1049.46 680.39 1051.45 680.53 1053.45 C680.67 1055.44 680.81 1057.44 680.95 1059.43 C681.10 1061.43 681.24 1063.42 681.39 1065.42 C681.54 1067.41 681.70 1069.41 681.85 1071.40 C682.01 1073.39 682.17 1075.39 682.33 1077.38 C682.49 1079.37 682.66 1081.37 682.83 1083.36 C683.00 1085.35 683.17 1087.34 683.35 1089.34 C683.53 1091.33 683.71 1093.32 683.90 1095.31 C684.09 1097.30 684.28 1099.29 684.48 1101.28 C684.68 1103.27 684.88 1105.26 685.09 1107.25 C685.30 1109.24 685.51 1111.23 685.73 1113.22 C685.96 1115.20 686.18 1117.19 686.42 1119.18 C686.65 1121.16 686.89 1123.15 687.14 1125.13 C687.39 1127.12 687.65 1129.10 687.91 1131.08 C688.18 1133.06 688.45 1135.05 688.73 1137.03 C689.02 1139.01 689.31 1140.98 689.61 1142.96 C689.92 1144.94 690.23 1146.91 690.56 1148.89 C690.89 1150.86 691.22 1152.83 691.58 1154.80 C691.93 1156.77 692.30 1158.73 692.68 1160.69 C693.07 1162.66 693.47 1164.62 693.88 1166.57 C694.30 1168.53 694.74 1170.48 695.20 1172.43 C695.66 1174.37 696.14 1176.32 696.65 1178.25 C697.15 1180.18 697.68 1182.11 698.25 1184.03 C698.82 1185.95 699.41 1187.86 700.05 1189.75 C700.69 1191.65 701.36 1193.53 702.10 1195.39 C702.84 1197.25 703.62 1199.10 704.48 1200.90 C705.34 1202.70 706.24 1204.49 707.26 1206.21 C708.28 1207.93 709.37 1209.62 710.58 1211.20 C711.80 1212.79 713.11 1214.31 714.53 1215.71 C715.95 1217.11 717.50 1218.41 719.11 1219.59 C720.72 1220.76 722.44 1221.82 724.19 1222.76 C725.95 1223.70 727.79 1224.51 729.65 1225.24 C731.51 1225.97 733.42 1226.58 735.35 1227.13 C737.27 1227.67 739.22 1228.11 741.18 1228.50 C743.14 1228.89 745.12 1229.20 747.10 1229.47 C749.08 1229.74 751.07 1229.95 753.07 1230.13 C755.06 1230.32 757.05 1230.45 759.05 1230.57 C761.05 1230.69 763.04 1230.77 765.04 1230.85 C767.04 1230.92 769.04 1230.97 771.04 1231.00 C773.04 1231.03 775.04 1231.04 777.04 1231.05 C779.04 1231.07 781.04 1231.09 783.04 1231.11 C785.04 1231.13 787.04 1231.14 789.04 1231.16 C791.04 1231.18 793.04 1231.20 795.04 1231.22 C797.04 1231.23 799.04 1231.25 801.04 1231.26 C803.04 1231.27 805.04 1231.26 807.04 1231.26 C809.04 1231.26 811.04 1231.26 813.04 1231.26 C815.04 1231.26 817.04 1231.26 819.04 1231.26 C821.04 1231.26 823.04 1231.26 825.04 1231.26 C827.04 1231.26 829.04 1231.26 831.04 1231.26 C833.04 1231.26 835.04 1231.26 837.04 1231.26 C839.04 1231.26 841.04 1231.26 843.04 1231.26 C845.04 1231.26 847.04 1231.26 849.04 1231.26 C851.04 1231.26 853.04 1231.26 855.04 1231.26 C857.04 1231.26 859.04 1231.26 861.04 1231.26 C863.04 1231.26 865.04 1231.26 867.04 1231.26 C869.04 1231.26 871.04 1231.26 873.04 1231.26 C875.04 1231.26 877.04 1231.26 879.04 1231.26 C881.04 1231.26 883.03 1231.26 885.03 1231.26 C887.03 1231.26 889.03 1231.26 891.03 1231.26 C893.03 1231.26 895.03 1231.26 897.03 1231.26 C899.03 1231.26 901.03 1231.26 903.03 1231.26 C905.03 1231.26 907.03 1231.26 909.03 1231.26 C911.03 1231.26 913.03 1231.26 915.03 1231.26 C917.03 1231.26 919.03 1231.26 921.03 1231.26 C923.03 1231.26 925.03 1231.26 927.03 1231.26 C929.03 1231.26 931.03 1231.26 933.03 1231.26 C935.03 1231.26 937.03 1231.26 939.03 1231.26 C941.03 1231.26 943.03 1231.26 945.03 1231.26 C947.03 1231.26 949.03 1231.26 951.03 1231.26 C953.03 1231.26 955.03 1231.26 957.03 1231.26 C959.03 1231.26 961.03 1231.26 963.03 1231.26 C965.03 1231.26 967.03 1231.26 969.03 1231.26 C971.03 1231.26 973.03 1231.26 975.03 1231.26 C977.03 1231.26 979.03 1231.26 981.03 1231.26 C983.03 1231.26 985.03 1231.26 987.03 1231.26 C989.03 1231.26 991.03 1231.26 993.03 1231.26 C995.03 1231.26 997.03 1231.26 999.03 1231.26 C1001.03 1231.26 1003.03 1231.26 1005.03 1231.26 C1007.03 1231.26 1009.03 1231.26 1011.03 1231.26 C1013.03 1231.26 1015.03 1231.26 1017.03 1231.26 C1019.03 1231.26 1021.03 1231.26 1023.03 1231.26 C1025.03 1231.26 1027.03 1231.26 1029.03 1231.26 C1031.03 1231.26 1033.03 1231.26 1035.03 1231.26 C1037.03 1231.26 1039.03 1231.26 1041.03 1231.26 C1043.03 1231.26 1045.03 1231.26 1047.03 1231.26 C1049.03 1231.26 1051.03 1231.26 1053.03 1231.26 C1055.03 1231.26 1057.03 1231.26 1059.03 1231.26 C1061.03 1231.26 1063.03 1231.26 1065.03 1231.26 C1067.03 1231.26 1069.03 1231.26 1071.03 1231.26 C1073.03 1231.26 1075.03 1231.26 1077.03 1231.26 C1079.03 1231.26 1081.03 1231.26 1083.03 1231.26 C1085.03 1231.26 1087.03 1231.26 1089.03 1231.26 C1091.03 1231.26 1093.03 1231.26 1095.03 1231.26 C1097.03 1231.26 1099.03 1231.26 1101.03 1231.26 C1103.03 1231.26 1105.03 1231.26 1107.03 1231.26 C1109.03 1231.26 1111.03 1231.26 1113.03 1231.26 C1115.03 1231.26 1117.03 1231.26 1119.03 1231.26 C1121.03 1231.26 1123.03 1231.26 1125.03 1231.26 C1127.03 1231.26 1129.03 1231.26 1131.03 1231.26 C1133.03 1231.26 1135.03 1231.26 1137.03 1231.26 C1139.03 1231.26 1141.02 1231.26 1143.02 1231.26 C1145.02 1231.26 1147.02 1231.26 1149.02 1231.26 C1151.02 1231.26 1153.02 1231.26 1155.02 1231.26 C1157.02 1231.26 1159.02 1231.26 1161.02 1231.26 C1163.02 1231.26 1165.02 1231.26 1167.02 1231.26 C1169.02 1231.26 1171.02 1231.26 1173.02 1231.26 C1175.02 1231.26 1177.02 1231.26 1179.02 1231.26 C1181.02 1231.26 1183.02 1231.26 1185.02 1231.26 C1187.02 1231.26 1189.02 1231.26 1191.02 1231.26 C1193.02 1231.26 1195.02 1231.26 1197.02 1231.26 C1199.02 1231.26 1201.02 1231.26 1203.02 1231.26 C1205.02 1231.26 1207.02 1231.26 1209.02 1231.26 C1211.02 1231.26 1213.02 1231.26 1215.02 1231.26 C1217.02 1231.26 1219.02 1231.26 1221.02 1231.26 C1223.02 1231.26 1225.02 1231.26 1227.02 1231.26 C1229.02 1231.26 1231.02 1231.26 1233.02 1231.26 C1235.02 1231.26 1237.02 1231.26 1239.02 1231.26 C1241.02 1231.26 1243.02 1231.26 1245.02 1231.26 C1247.02 1231.26 1249.02 1231.26 1251.02 1231.26 C1253.02 1231.26 1255.02 1231.26 1257.02 1231.26 C1259.02 1231.26 1261.02 1231.26 1263.02 1231.26 C1265.02 1231.26 1267.02 1231.26 1269.02 1231.26 C1271.02 1231.26 1273.02 1231.26 1275.02 1231.26 C1277.02 1231.26 1279.02 1231.26 1281.02 1231.26 C1283.02 1231.26 1285.02 1231.26 1287.02 1231.26 C1289.02 1231.26 1291.02 1231.26 1293.02 1231.26 C1295.02 1231.26 1297.02 1231.26 1299.02 1231.26 C1301.02 1231.26 1303.02 1231.26 1305.02 1231.26 C1307.02 1231.26 1309.02 1231.26 1311.02 1231.26 C1313.02 1231.26 1315.02 1231.26 1317.02 1231.26 C1319.02 1231.26 1321.02 1231.26 1323.02 1231.26 C1325.02 1231.26 1327.02 1231.26 1329.02 1231.26 C1331.02 1231.26 1333.02 1231.26 1335.02 1231.26 C1337.02 1231.26 1339.02 1231.26 1341.02 1231.26 C1343.02 1231.26 1345.02 1231.26 1347.02 1231.26 C1349.02 1231.26 1351.02 1231.26 1353.02 1231.26 C1355.02 1231.26 1357.02 1231.26 1359.02 1231.26 C1361.02 1231.26 1363.02 1231.26 1365.02 1231.26 C1367.02 1231.26 1369.02 1231.26 1371.02 1231.26 C1373.02 1231.26 1375.02 1231.26 1377.02 1231.26 C1379.02 1231.26 1381.02 1231.26 1383.02 1231.26 C1385.02 1231.26 1387.02 1231.26 1389.02 1231.26 C1391.02 1231.26 1393.02 1231.26 1395.02 1231.26 C1397.02 1231.26 1399.01 1231.26 1401.01 1231.26 C1403.01 1231.26 1405.01 1231.26 1407.01 1231.26 C1409.01 1231.26 1411.01 1231.26 1413.01 1231.26 C1415.01 1231.26 1417.01 1231.26 1419.01 1231.26 C1421.01 1231.26 1423.01 1231.26 1425.01 1231.26 C1427.01 1231.26 1429.01 1231.26 1431.01 1231.26 C1433.01 1231.26 1435.01 1231.26 1437.01 1231.26 C1439.01 1231.26 1441.01 1231.26 1443.01 1231.26 C1445.01 1231.26 1447.01 1231.26 1449.01 1231.26 C1451.01 1231.26 1453.01 1231.26 1455.01 1231.26 C1457.01 1231.26 1459.01 1231.26 1461.01 1231.26 C1463.01 1231.26 1465.01 1231.26 1467.01 1231.26 C1469.01 1231.26 1471.01 1231.26 1473.01 1231.26 C1475.01 1231.26 1477.01 1231.26 1479.01 1231.26 C1481.01 1231.26 1483.01 1231.26 1485.01 1231.26 C1487.01 1231.26 1489.01 1231.26 1491.01 1231.26 C1493.01 1231.26 1495.01 1231.26 1497.01 1231.26 C1499.01 1231.26 1501.01 1231.26 1503.01 1231.26 C1505.01 1231.26 1507.01 1231.26 1509.01 1231.26 C1511.01 1231.26 1513.01 1231.26 1515.01 1231.26 C1517.01 1231.26 1519.01 1231.26 1521.01 1231.26 C1523.01 1231.26 1525.01 1231.26 1527.01 1231.26 C1529.01 1231.26 1531.01 1231.26 1533.01 1231.26 C1535.01 1231.26 1537.01 1231.26 1539.01 1231.26 C1541.01 1231.26 1543.01 1231.26 1545.01 1231.26 C1547.01 1231.26 1549.01 1231.26 1551.01 1231.26 C1553.01 1231.26 1555.01 1231.26 1557.01 1231.26 C1559.01 1231.26 1561.01 1231.26 1563.01 1231.26 C1565.01 1231.26 1567.01 1231.26 1569.01 1231.26 C1571.01 1231.26 1573.01 1231.26 1575.01 1231.26 C1577.01 1231.26 1579.01 1231.26 1581.01 1231.26 C1583.01 1231.26 1585.01 1231.26 1587.01 1231.26 C1589.01 1231.26 1591.01 1231.26 1593.01 1231.26 C1595.01 1231.26 1597.01 1231.26 1599.01 1231.26 C1601.01 1231.26 1603.01 1231.26 1605.01 1231.26 C1607.01 1231.26 1609.01 1231.26 1611.01 1231.26 C1613.01 1231.26 1615.01 1231.26 1617.01 1231.26 C1619.01 1231.26 1621.01 1231.26 1623.01 1231.26 C1625.01 1231.26 1627.01 1231.26 1629.01 1231.26 C1631.01 1231.26 1633.01 1231.26 1635.01 1231.26 C1637.01 1231.26 1639.01 1231.26 1641.01 1231.26 C1643.01 1231.26 1645.01 1231.26 1647.01 1231.26 C1649.01 1231.26 1651.01 1231.26 1653.01 1231.26 C1655.01 1231.26 1657.00 1231.26 1659.00 1231.26 C1661.00 1231.26 1663.00 1231.26 1665.00 1231.26 C1667.00 1231.26 1669.00 1231.26 1671.00 1231.26 C1673.00 1231.26 1675.00 1231.26 1677.00 1231.26 C1679.00 1231.26 1681.00 1231.26 1683.00 1231.26 C1685.00 1231.26 1687.00 1231.26 1689.00 1231.26 C1691.00 1231.26 1693.00 1231.26 1695.00 1231.26 C1697.00 1231.26 1699.00 1231.26 1701.00 1231.26 C1703.00 1231.26 1705.00 1231.26 1707.00 1231.26 C1709.00 1231.26 1711.00 1231.26 1713.00 1231.26 C1715.00 1231.26 1717.00 1231.26 1719.00 1231.26 C1721.00 1231.26 1723.00 1231.26 1725.00 1231.26 C1727.00 1231.26 1729.00 1231.26 1731.00 1231.26 C1733.00 1231.26 1735.00 1231.26 1737.00 1231.26 C1739.00 1231.26 1741.00 1231.26 1743.00 1231.26 C1745.00 1231.26 1747.00 1231.26 1749.00 1231.26 C1751.00 1231.26 1753.00 1231.26 1755.00 1231.26 C1757.00 1231.26 1759.00 1231.26 1761.00 1231.26 C1763.00 1231.26 1765.00 1231.26 1767.00 1231.26 C1769.00 1231.26 1771.00 1231.26 1773.00 1231.26 C1775.00 1231.26 1777.00 1231.26 1779.00 1231.26 C1781.00 1231.26 1784.00 1231.26 1785.00 1231.26"/>
<path stroke="#1A6FDF" d="M210.00 1231.53 C211.00 1231.53 214.00 1231.54 216.00 1231.53 C218.00 1231.52 220.00 1231.50 222.00 1231.48 C224.00 1231.46 226.00 1231.44 228.00 1231.43 C230.00 1231.41 232.00 1231.39 233.99 1231.37 C235.99 1231.35 237.99 1231.33 239.99 1231.32 C241.99 1231.30 243.99 1231.29 245.99 1231.26 C247.99 1231.23 249.99 1231.19 251.99 1231.15 C253.99 1231.10 255.99 1231.05 257.99 1230.99 C259.99 1230.92 261.98 1230.85 263.98 1230.77 C265.98 1230.68 267.98 1230.58 269.97 1230.47 C271.97 1230.35 273.97 1230.22 275.96 1230.06 C277.95 1229.90 279.94 1229.71 281.93 1229.50 C283.92 1229.30 285.90 1229.04 287.89 1228.83 C289.88 1228.61 291.87 1228.42 293.86 1228.20 C295.85 1227.99 297.83 1227.78 299.82 1227.54 C301.81 1227.31 303.79 1227.07 305.77 1226.80 C307.75 1226.53 309.73 1226.25 311.71 1225.93 C313.68 1225.61 315.65 1225.27 317.62 1224.89 C319.58 1224.51 321.54 1224.10 323.48 1223.65 C325.43 1223.20 327.37 1222.71 329.30 1222.18 C331.23 1221.64 333.14 1221.07 335.04 1220.43 C336.94 1219.80 338.82 1219.12 340.68 1218.38 C342.53 1217.64 344.37 1216.85 346.18 1215.99 C347.98 1215.13 349.76 1214.22 351.50 1213.23 C353.24 1212.25 354.95 1211.20 356.60 1210.08 C358.26 1208.96 359.88 1207.78 361.43 1206.52 C362.99 1205.27 364.49 1203.94 365.94 1202.56 C367.38 1201.18 368.77 1199.74 370.09 1198.24 C371.41 1196.74 372.67 1195.18 373.87 1193.58 C375.07 1191.98 376.20 1190.33 377.27 1188.65 C378.35 1186.96 379.36 1185.23 380.32 1183.48 C381.29 1181.73 382.19 1179.94 383.06 1178.14 C383.93 1176.34 384.74 1174.52 385.53 1172.68 C386.32 1170.84 387.07 1168.99 387.79 1167.12 C388.52 1165.26 389.21 1163.38 389.88 1161.50 C390.55 1159.61 391.19 1157.72 391.82 1155.82 C392.44 1153.92 393.05 1152.01 393.64 1150.10 C394.23 1148.19 394.80 1146.28 395.36 1144.36 C395.92 1142.44 396.46 1140.51 397.00 1138.59 C397.53 1136.66 398.05 1134.73 398.57 1132.80 C399.08 1130.86 399.58 1128.93 400.08 1126.99 C400.57 1125.05 401.06 1123.11 401.54 1121.17 C402.02 1119.23 402.49 1117.29 402.96 1115.34 C403.43 1113.40 403.89 1111.45 404.34 1109.51 C404.80 1107.56 405.25 1105.61 405.70 1103.66 C406.14 1101.71 406.58 1099.76 407.02 1097.81 C407.45 1095.86 407.88 1093.91 408.31 1091.95 C408.74 1090.00 409.16 1088.04 409.57 1086.09 C409.99 1084.13 410.40 1082.18 410.81 1080.22 C411.22 1078.26 411.62 1076.30 412.02 1074.34 C412.42 1072.38 412.82 1070.42 413.21 1068.46 C413.60 1066.50 413.98 1064.54 414.37 1062.58 C414.75 1060.62 415.13 1058.65 415.51 1056.69 C415.88 1054.72 416.25 1052.76 416.62 1050.79 C416.99 1048.83 417.36 1046.86 417.72 1044.90 C418.08 1042.93 418.44 1040.96 418.79 1038.99 C419.15 1037.03 419.50 1035.06 419.85 1033.09 C420.20 1031.12 420.55 1029.15 420.89 1027.18 C421.23 1025.21 421.57 1023.24 421.91 1021.27 C422.25 1019.30 422.58 1017.33 422.91 1015.35 C423.24 1013.38 423.57 1011.41 423.90 1009.44 C424.23 1007.46 424.55 1005.49 424.87 1003.52 C425.19 1001.54 425.51 999.57 425.83 997.60 C426.14 995.62 426.46 993.65 426.77 991.67 C427.08 989.70 427.39 987.72 427.70 985.74 C428.01 983.77 428.31 981.79 428.62 979.82 C428.92 977.84 429.22 975.86 429.52 973.89 C429.82 971.91 430.12 969.93 430.42 967.95 C430.71 965.98 431.01 964.00 431.30 962.02 C431.59 960.04 431.88 958.06 432.17 956.08 C432.46 954.11 432.75 952.13 433.03 950.15 C433.32 948.17 433.60 946.19 433.89 944.21 C434.17 942.23 434.45 940.25 434.73 938.27 C435.01 936.29 435.29 934.31 435.57 932.33 C435.84 930.35 436.12 928.37 436.39 926.39 C436.67 924.41 436.94 922.43 437.22 920.45 C437.49 918.47 437.76 916.48 438.03 914.50 C438.30 912.52 438.57 910.54 438.84 908.56 C439.11 906.58 439.38 904.60 439.65 902.62 C439.92 900.63 440.18 898.65 440.45 896.67 C440.72 894.69 440.98 892.71 441.25 890.72 C441.51 888.74 441.78 886.76 442.04 884.78 C442.31 882.80 442.57 880.81 442.84 878.83 C443.10 876.85 443.37 874.87 443.63 872.89 C443.90 870.90 444.16 868.92 444.43 866.94 C444.69 864.96 444.95 862.98 445.22 860.99 C445.48 859.01 445.75 857.03 446.01 855.05 C446.28 853.07 446.54 851.08 446.81 849.10 C447.07 847.12 447.34 845.14 447.60 843.16 C447.87 841.17 448.14 839.19 448.40 837.21 C448.67 835.23 448.94 833.25 449.21 831.27 C449.48 829.28 449.74 827.30 450.01 825.32 C450.28 823.34 450.55 821.36 450.83 819.38 C451.10 817.40 451.37 815.42 451.64 813.43 C451.92 811.45 452.19 809.47 452.47 807.49 C452.74 805.51 453.02 803.53 453.30 801.55 C453.58 799.57 453.86 797.59 454.14 795.61 C454.42 793.63 454.70 791.65 454.99 789.67 C455.27 787.69 455.56 785.71 455.85 783.74 C456.13 781.76 456.42 779.78 456.71 777.80 C457.01 775.82 457.30 773.84 457.60 771.87 C457.89 769.89 458.19 767.91 458.49 765.93 C458.79 763.96 459.09 761.98 459.40 760.00 C459.70 758.03 460.01 756.05 460.32 754.08 C460.63 752.10 460.95 750.13 461.27 748.15 C461.58 746.18 461.90 744.20 462.23 742.23 C462.55 740.26 462.88 738.29 463.21 736.31 C463.54 734.34 463.88 732.37 464.22 730.40 C464.55 728.43 464.90 726.46 465.25 724.49 C465.59 722.52 465.95 720.55 466.31 718.59 C466.66 716.62 467.03 714.65 467.40 712.69 C467.77 710.72 468.14 708.76 468.52 706.79 C468.91 704.83 469.29 702.87 469.69 700.91 C470.08 698.95 470.49 696.99 470.90 695.03 C471.31 693.08 471.73 691.12 472.16 689.17 C472.59 687.22 473.02 685.26 473.47 683.32 C473.92 681.37 474.38 679.42 474.86 677.48 C475.33 675.54 475.81 673.60 476.32 671.66 C476.82 669.72 477.33 667.79 477.87 665.87 C478.40 663.94 478.95 662.02 479.53 660.10 C480.11 658.19 480.70 656.28 481.33 654.38 C481.96 652.48 482.61 650.59 483.31 648.72 C484.01 646.84 484.73 644.98 485.53 643.14 C486.32 641.31 487.14 639.48 488.07 637.71 C489.00 635.95 489.96 634.17 491.12 632.55 C492.27 630.93 493.26 629.23 495.00 628.00 C496.75 626.76 499.77 625.40 501.60 625.14 C503.43 624.87 504.53 625.52 506.01 626.39 C507.49 627.27 509.16 628.88 510.47 630.36 C511.77 631.85 512.82 633.60 513.84 635.31 C514.87 637.03 515.74 638.84 516.59 640.64 C517.44 642.45 518.21 644.30 518.95 646.16 C519.68 648.02 520.36 649.90 521.02 651.79 C521.68 653.68 522.30 655.58 522.90 657.49 C523.49 659.39 524.06 661.31 524.61 663.23 C525.17 665.16 525.69 667.09 526.21 669.02 C526.72 670.95 527.22 672.89 527.70 674.83 C528.19 676.77 528.65 678.71 529.11 680.66 C529.57 682.61 530.01 684.55 530.45 686.51 C530.89 688.46 531.31 690.41 531.73 692.37 C532.14 694.32 532.55 696.28 532.95 698.24 C533.35 700.20 533.74 702.16 534.13 704.12 C534.52 706.08 534.89 708.05 535.27 710.01 C535.64 711.98 536.01 713.94 536.37 715.91 C536.73 717.88 537.09 719.84 537.44 721.81 C537.79 723.78 538.14 725.75 538.48 727.72 C538.82 729.69 539.16 731.66 539.50 733.63 C539.83 735.60 540.16 737.58 540.49 739.55 C540.82 741.52 541.14 743.49 541.46 745.47 C541.78 747.44 542.10 749.42 542.42 751.39 C542.73 753.37 543.04 755.34 543.35 757.32 C543.66 759.29 543.97 761.27 544.27 763.24 C544.58 765.22 544.88 767.20 545.18 769.17 C545.48 771.15 545.78 773.13 546.07 775.11 C546.37 777.08 546.66 779.06 546.95 781.04 C547.25 783.02 547.54 785.00 547.83 786.97 C548.11 788.95 548.40 790.93 548.69 792.91 C548.97 794.89 549.26 796.87 549.54 798.85 C549.82 800.83 550.10 802.81 550.38 804.79 C550.67 806.77 550.94 808.75 551.22 810.73 C551.50 812.71 551.78 814.69 552.05 816.67 C552.33 818.65 552.61 820.63 552.88 822.61 C553.15 824.59 553.43 826.57 553.70 828.55 C553.97 830.53 554.25 832.52 554.52 834.50 C554.79 836.48 555.06 838.46 555.33 840.44 C555.60 842.42 555.87 844.40 556.14 846.38 C556.41 848.37 556.68 850.35 556.95 852.33 C557.22 854.31 557.49 856.29 557.75 858.27 C558.02 860.26 558.29 862.24 558.56 864.22 C558.83 866.20 559.09 868.18 559.36 870.16 C559.63 872.14 559.90 874.13 560.16 876.11 C560.43 878.09 560.70 880.07 560.97 882.05 C561.23 884.03 561.50 886.02 561.77 888.00 C562.04 889.98 562.31 891.96 562.57 893.94 C562.84 895.92 563.11 897.91 563.38 899.89 C563.65 901.87 563.92 903.85 564.19 905.83 C564.46 907.81 564.73 909.79 565.00 911.78 C565.27 913.76 565.54 915.74 565.81 917.72 C566.08 919.70 566.36 921.68 566.63 923.66 C566.90 925.64 567.17 927.62 567.45 929.60 C567.72 931.59 568.00 933.57 568.27 935.55 C568.55 937.53 568.83 939.51 569.10 941.49 C569.38 943.47 569.66 945.45 569.94 947.43 C570.22 949.41 570.50 951.39 570.78 953.37 C571.06 955.35 571.35 957.33 571.63 959.31 C571.92 961.29 572.20 963.26 572.49 965.24 C572.77 967.22 573.06 969.20 573.35 971.18 C573.64 973.16 573.93 975.14 574.22 977.12 C574.52 979.09 574.81 981.07 575.10 983.05 C575.40 985.03 575.70 987.00 575.99 988.98 C576.29 990.96 576.59 992.94 576.90 994.91 C577.20 996.89 577.50 998.87 577.81 1000.84 C578.11 1002.82 578.42 1004.79 578.73 1006.77 C579.04 1008.74 579.35 1010.72 579.67 1012.69 C579.98 1014.67 580.30 1016.64 580.62 1018.62 C580.93 1020.59 581.26 1022.57 581.58 1024.54 C581.90 1026.51 582.23 1028.49 582.56 1030.46 C582.89 1032.43 583.22 1034.40 583.55 1036.37 C583.89 1038.35 584.22 1040.32 584.56 1042.29 C584.91 1044.26 585.25 1046.23 585.59 1048.20 C585.94 1050.17 586.29 1052.13 586.64 1054.10 C587.00 1056.07 587.35 1058.04 587.71 1060.01 C588.08 1061.97 588.44 1063.94 588.81 1065.90 C589.18 1067.87 589.55 1069.83 589.92 1071.80 C590.30 1073.76 590.68 1075.73 591.07 1077.69 C591.45 1079.65 591.84 1081.61 592.24 1083.57 C592.63 1085.53 593.03 1087.49 593.43 1089.45 C593.84 1091.41 594.25 1093.36 594.66 1095.32 C595.08 1097.28 595.50 1099.23 595.93 1101.19 C596.35 1103.14 596.79 1105.09 597.23 1107.04 C597.67 1108.99 598.11 1110.94 598.57 1112.89 C599.02 1114.84 599.48 1116.78 599.95 1118.73 C600.42 1120.67 600.90 1122.61 601.38 1124.55 C601.87 1126.49 602.36 1128.43 602.87 1130.36 C603.38 1132.30 603.89 1134.23 604.42 1136.16 C604.95 1138.09 605.49 1140.01 606.05 1141.93 C606.61 1143.85 607.18 1145.77 607.76 1147.68 C608.35 1149.59 608.95 1151.50 609.58 1153.40 C610.20 1155.30 610.84 1157.19 611.51 1159.08 C612.18 1160.96 612.86 1162.84 613.58 1164.71 C614.30 1166.57 615.04 1168.43 615.82 1170.27 C616.59 1172.12 617.40 1173.95 618.25 1175.76 C619.09 1177.57 619.97 1179.37 620.90 1181.14 C621.84 1182.90 622.81 1184.66 623.84 1186.37 C624.86 1188.08 625.94 1189.77 627.08 1191.42 C628.21 1193.06 629.41 1194.67 630.66 1196.22 C631.91 1197.78 633.22 1199.30 634.58 1200.76 C635.95 1202.22 637.36 1203.64 638.83 1204.99 C640.30 1206.34 641.83 1207.64 643.40 1208.88 C644.97 1210.12 646.59 1211.29 648.25 1212.41 C649.90 1213.53 651.60 1214.59 653.33 1215.59 C655.06 1216.59 656.83 1217.54 658.62 1218.41 C660.42 1219.29 662.26 1220.09 664.12 1220.82 C665.98 1221.55 667.87 1222.20 669.78 1222.79 C671.69 1223.38 673.63 1223.88 675.58 1224.34 C677.52 1224.80 679.49 1225.18 681.45 1225.54 C683.42 1225.89 685.40 1226.19 687.38 1226.47 C689.36 1226.74 691.35 1226.98 693.33 1227.20 C695.32 1227.42 697.31 1227.61 699.30 1227.80 C701.29 1227.99 703.29 1228.16 705.28 1228.32 C707.27 1228.49 709.27 1228.64 711.26 1228.79 C713.25 1228.94 715.25 1229.08 717.24 1229.23 C719.24 1229.37 721.23 1229.53 723.22 1229.67 C725.22 1229.81 727.22 1229.94 729.21 1230.06 C731.21 1230.17 733.20 1230.27 735.20 1230.37 C737.20 1230.46 739.20 1230.54 741.20 1230.61 C743.19 1230.69 745.19 1230.75 747.19 1230.81 C749.19 1230.87 751.19 1230.92 753.19 1230.96 C755.19 1231.01 757.19 1231.05 759.19 1231.09 C761.19 1231.12 763.19 1231.15 765.18 1231.18 C767.18 1231.21 769.18 1231.24 771.18 1231.26 C773.18 1231.28 775.18 1231.30 777.18 1231.31 C779.18 1231.33 781.18 1231.35 783.18 1231.37 C785.18 1231.39 787.18 1231.40 789.18 1231.42 C791.18 1231.44 793.18 1231.46 795.18 1231.48 C797.18 1231.49 799.18 1231.52 801.18 1231.53 C803.18 1231.54 805.18 1231.53 807.18 1231.53 C809.17 1231.53 811.17 1231.53 813.17 1231.53 C815.17 1231.53 817.17 1231.53 819.17 1231.53 C821.17 1231.53 823.17 1231.53 825.17 1231.53 C827.17 1231.53 829.17 1231.53 831.17 1231.53 C833.17 1231.53 835.17 1231.53 837.17 1231.53 C839.17 1231.53 841.17 1231.53 843.17 1231.53 C845.17 1231.53 847.17 1231.53 849.17 1231.53 C851.17 1231.53 853.17 1231.53 855.17 1231.53 C857.17 1231.53 859.17 1231.53 861.17 1231.53 C863.17 1231.53 865.16 1231.53 867.16 1231.53 C869.16 1231.53 871.16 1231.53 873.16 1231.53 C875.16 1231.53 877.16 1231.53 879.16 1231.53 C881.16 1231.53 883.16 1231.53 885.16 1231.53 C887.16 1231.53 889.16 1231.53 891.16 1231.53 C893.16 1231.53 895.16 1231.53 897.16 1231.53 C899.16 1231.53 901.16 1231.53 903.16 1231.53 C905.16 1231.53 907.16 1231.53 909.16 1231.53 C911.16 1231.53 913.16 1231.53 915.16 1231.53 C917.16 1231.53 919.16 1231.53 921.15 1231.53 C923.15 1231.53 925.15 1231.53 927.15 1231.53 C929.15 1231.53 931.15 1231.53 933.15 1231.53 C935.15 1231.53 937.15 1231.53 939.15 1231.53 C941.15 1231.53 943.15 1231.53 945.15 1231.53 C947.15 1231.53 949.15 1231.53 951.15 1231.53 C953.15 1231.53 955.15 1231.53 957.15 1231.53 C959.15 1231.53 961.15 1231.53 963.15 1231.53 C965.15 1231.53 967.15 1231.53 969.15 1231.53 C971.15 1231.53 973.15 1231.53 975.15 1231.53 C977.14 1231.53 979.14 1231.53 981.14 1231.53 C983.14 1231.53 985.14 1231.53 987.14 1231.53 C989.14 1231.53 991.14 1231.53 993.14 1231.53 C995.14 1231.53 997.14 1231.53 999.14 1231.53 C1001.14 1231.53 1003.14 1231.53 1005.14 1231.53 C1007.14 1231.53 1009.14 1231.53 1011.14 1231.53 C1013.14 1231.53 1015.14 1231.53 1017.14 1231.53 C1019.14 1231.53 1021.14 1231.53 1023.14 1231.53 C1025.14 1231.53 1027.14 1231.53 1029.14 1231.53 C1031.14 1231.53 1033.13 1231.53 1035.13 1231.53 C1037.13 1231.53 1039.13 1231.53 1041.13 1231.53 C1043.13 1231.53 1045.13 1231.53 1047.13 1231.53 C1049.13 1231.53 1051.13 1231.53 1053.13 1231.53 C1055.13 1231.53 1057.13 1231.53 1059.13 1231.53 C1061.13 1231.53 1063.13 1231.53 1065.13 1231.53 C1067.13 1231.53 1069.13 1231.53 1071.13 1231.53 C1073.13 1231.53 1075.13 1231.53 1077.13 1231.53 C1079.13 1231.53 1081.13 1231.53 1083.13 1231.53 C1085.13 1231.53 1087.13 1231.53 1089.12 1231.53 C1091.12 1231.53 1093.12 1231.53 1095.12 1231.53 C1097.12 1231.53 1099.12 1231.53 1101.12 1231.53 C1103.12 1231.53 1105.12 1231.53 1107.12 1231.53 C1109.12 1231.53 1111.12 1231.53 1113.12 1231.53 C1115.12 1231.53 1117.12 1231.53 1119.12 1231.53 C1121.12 1231.53 1123.12 1231.53 1125.12 1231.53 C1127.12 1231.53 1129.12 1231.53 1131.12 1231.53 C1133.12 1231.53 1135.12 1231.53 1137.12 1231.53 C1139.12 1231.53 1141.12 1231.53 1143.12 1231.53 C1145.11 1231.53 1147.11 1231.53 1149.11 1231.53 C1151.11 1231.53 1153.11 1231.53 1155.11 1231.53 C1157.11 1231.53 1159.11 1231.53 1161.11 1231.53 C1163.11 1231.53 1165.11 1231.53 1167.11 1231.53 C1169.11 1231.53 1171.11 1231.53 1173.11 1231.53 C1175.11 1231.53 1177.11 1231.53 1179.11 1231.53 C1181.11 1231.53 1183.11 1231.53 1185.11 1231.53 C1187.11 1231.53 1189.11 1231.53 1191.11 1231.53 C1193.11 1231.53 1195.11 1231.53 1197.11 1231.53 C1199.11 1231.53 1201.10 1231.53 1203.10 1231.53 C1205.10 1231.53 1207.10 1231.53 1209.10 1231.53 C1211.10 1231.53 1213.10 1231.53 1215.10 1231.53 C1217.10 1231.53 1219.10 1231.53 1221.10 1231.53 C1223.10 1231.53 1225.10 1231.53 1227.10 1231.53 C1229.10 1231.53 1231.10 1231.53 1233.10 1231.53 C1235.10 1231.53 1237.10 1231.53 1239.10 1231.53 C1241.10 1231.53 1243.10 1231.53 1245.10 1231.53 C1247.10 1231.53 1249.10 1231.53 1251.10 1231.53 C1253.10 1231.53 1255.09 1231.53 1257.09 1231.53 C1259.09 1231.53 1261.09 1231.53 1263.09 1231.53 C1265.09 1231.53 1267.09 1231.53 1269.09 1231.53 C1271.09 1231.53 1273.09 1231.53 1275.09 1231.53 C1277.09 1231.53 1279.09 1231.53 1281.09 1231.53 C1283.09 1231.53 1285.09 1231.53 1287.09 1231.53 C1289.09 1231.53 1291.09 1231.53 1293.09 1231.53 C1295.09 1231.53 1297.09 1231.53 1299.09 1231.53 C1301.09 1231.53 1303.09 1231.53 1305.09 1231.53 C1307.09 1231.53 1309.09 1231.53 1311.08 1231.53 C1313.08 1231.53 1315.08 1231.53 1317.08 1231.53 C1319.08 1231.53 1321.08 1231.53 1323.08 1231.53 C1325.08 1231.53 1327.08 1231.53 1329.08 1231.53 C1331.08 1231.53 1333.08 1231.53 1335.08 1231.53 C1337.08 1231.53 1339.08 1231.53 1341.08 1231.53 C1343.08 1231.53 1345.08 1231.53 1347.08 1231.53 C1349.08 1231.53 1351.08 1231.53 1353.08 1231.53 C1355.08 1231.53 1357.08 1231.53 1359.08 1231.53 C1361.08 1231.53 1363.08 1231.53 1365.08 1231.53 C1367.07 1231.53 1369.07 1231.53 1371.07 1231.53 C1373.07 1231.53 1375.07 1231.53 1377.07 1231.53 C1379.07 1231.53 1381.07 1231.53 1383.07 1231.53 C1385.07 1231.53 1387.07 1231.53 1389.07 1231.53 C1391.07 1231.53 1393.07 1231.53 1395.07 1231.53 C1397.07 1231.53 1399.07 1231.53 1401.07 1231.53 C1403.07 1231.53 1405.07 1231.53 1407.07 1231.53 C1409.07 1231.53 1411.07 1231.53 1413.07 1231.53 C1415.07 1231.53 1417.07 1231.53 1419.07 1231.53 C1421.07 1231.53 1423.06 1231.53 1425.06 1231.53 C1427.06 1231.53 1429.06 1231.53 1431.06 1231.53 C1433.06 1231.53 1435.06 1231.53 1437.06 1231.53 C1439.06 1231.53 1441.06 1231.53 1443.06 1231.53 C1445.06 1231.53 1447.06 1231.53 1449.06 1231.53 C1451.06 1231.53 1453.06 1231.53 1455.06 1231.53 C1457.06 1231.53 1459.06 1231.53 1461.06 1231.53 C1463.06 1231.53 1465.06 1231.53 1467.06 1231.53 C1469.06 1231.53 1471.06 1231.53 1473.06 1231.53 C1475.06 1231.53 1477.06 1231.53 1479.05 1231.53 C1481.05 1231.53 1483.05 1231.53 1485.05 1231.53 C1487.05 1231.53 1489.05 1231.53 1491.05 1231.53 C1493.05 1231.53 1495.05 1231.53 1497.05 1231.53 C1499.05 1231.53 1501.05 1231.53 1503.05 1231.53 C1505.05 1231.53 1507.05 1231.53 1509.05 1231.53 C1511.05 1231.53 1513.05 1231.53 1515.05 1231.53 C1517.05 1231.53 1519.05 1231.53 1521.05 1231.53 C1523.05 1231.53 1525.05 1231.53 1527.05 1231.53 C1529.05 1231.53 1531.05 1231.53 1533.05 1231.53 C1535.04 1231.53 1537.04 1231.53 1539.04 1231.53 C1541.04 1231.53 1543.04 1231.53 1545.04 1231.53 C1547.04 1231.53 1549.04 1231.53 1551.04 1231.53 C1553.04 1231.53 1555.04 1231.53 1557.04 1231.53 C1559.04 1231.53 1561.04 1231.53 1563.04 1231.53 C1565.04 1231.53 1567.04 1231.53 1569.04 1231.53 C1571.04 1231.53 1573.04 1231.53 1575.04 1231.53 C1577.04 1231.53 1579.04 1231.53 1581.04 1231.53 C1583.04 1231.53 1585.04 1231.53 1587.04 1231.53 C1589.04 1231.53 1591.03 1231.53 1593.03 1231.53 C1595.03 1231.53 1597.03 1231.53 1599.03 1231.53 C1601.03 1231.53 1603.03 1231.53 1605.03 1231.53 C1607.03 1231.53 1609.03 1231.53 1611.03 1231.53 C1613.03 1231.53 1615.03 1231.53 1617.03 1231.53 C1619.03 1231.53 1621.03 1231.53 1623.03 1231.53 C1625.03 1231.53 1627.03 1231.53 1629.03 1231.53 C1631.03 1231.53 1633.03 1231.53 1635.03 1231.53 C1637.03 1231.53 1639.03 1231.53 1641.03 1231.53 C1643.03 1231.53 1645.03 1231.53 1647.02 1231.53 C1649.02 1231.53 1651.02 1231.53 1653.02 1231.53 C1655.02 1231.53 1657.02 1231.53 1659.02 1231.53 C1661.02 1231.53 1663.02 1231.53 1665.02 1231.53 C1667.02 1231.53 1669.02 1231.53 1671.02 1231.53 C1673.02 1231.53 1675.02 1231.53 1677.02 1231.53 C1679.02 1231.53 1681.02 1231.53 1683.02 1231.53 C1685.02 1231.53 1687.02 1231.53 1689.02 1231.53 C1691.02 1231.53 1693.02 1231.53 1695.02 1231.53 C1697.02 1231.53 1699.02 1231.53 1701.02 1231.53 C1703.01 1231.53 1705.01 1231.53 1707.01 1231.53 C1709.01 1231.53 1711.01 1231.53 1713.01 1231.53 C1715.01 1231.53 1717.01 1231.53 1719.01 1231.53 C1721.01 1231.53 1723.01 1231.53 1725.01 1231.53 C1727.01 1231.53 1729.01 1231.53 1731.01 1231.53 C1733.01 1231.53 1735.01 1231.53 1737.01 1231.53 C1739.01 1231.53 1741.01 1231.53 1743.01 1231.53 C1745.01 1231.53 1747.01 1231.53 1749.01 1231.53 C1751.01 1231.53 1753.01 1231.53 1755.01 1231.53 C1757.01 1231.53 1759.00 1231.53 1761.00 1231.53 C1763.00 1231.53 1765.00 1231.53 1767.00 1231.53 C1769.00 1231.53 1771.00 1231.53 1773.00 1231.53 C1775.00 1231.53 1777.00 1231.53 1779.00 1231.53 C1781.00 1231.53 1784.00 1231.53 1785.00 1231.53"/>
<path stroke="#37AD6B" clip-path="url(#greenclip)" d="M210.00 1229.73 C211.00 1229.73 214.00 1229.73 216.00 1229.73 C218.00 1229.73 220.00 1229.73 222.00 1229.73 C224.00 1229.73 226.00 1229.73 228.00 1229.73 C230.00 1229.73 232.00 1229.73 234.00 1229.73 C236.00 1229.73 238.00 1229.73 240.00 1229.73 C242.00 1229.73 244.01 1229.73 246.01 1229.73 C248.01 1229.73 250.01 1229.73 252.01 1229.73 C254.01 1229.73 256.01 1229.73 258.01 1229.73 C260.01 1229.73 262.01 1229.73 264.01 1229.73 C266.01 1229.73 268.01 1229.73 270.01 1229.73 C272.01 1229.73 274.01 1229.73 276.01 1229.73 C278.01 1229.73 280.01 1229.73 282.01 1229.73 C284.01 1229.73 286.01 1229.73 288.01 1229.73 C290.01 1229.73 292.01 1229.73 294.01 1229.73 C296.01 1229.73 298.01 1229.73 300.01 1229.73 C302.01 1229.73 304.01 1229.73 306.01 1229.73 C308.01 1229.73 310.02 1229.73 312.02 1229.73 C314.02 1229.73 316.02 1229.73 318.02 1229.73 C320.02 1229.73 322.02 1229.73 324.02 1229.73 C326.02 1229.73 328.02 1229.72 330.02 1229.71 C332.02 1229.69 334.02 1229.67 336.02 1229.65 C338.02 1229.63 340.02 1229.62 342.02 1229.60 C344.02 1229.58 346.02 1229.56 348.02 1229.54 C350.02 1229.52 352.02 1229.51 354.02 1229.49 C356.02 1229.47 358.02 1229.45 360.02 1229.43 C362.02 1229.40 364.02 1229.38 366.02 1229.35 C368.02 1229.32 370.02 1229.29 372.02 1229.24 C374.02 1229.20 376.02 1229.16 378.02 1229.09 C380.02 1229.02 382.02 1228.95 384.02 1228.85 C386.01 1228.75 388.01 1228.63 390.01 1228.47 C392.00 1228.30 393.99 1228.11 395.98 1227.86 C397.96 1227.62 399.94 1227.32 401.91 1226.97 C403.88 1226.62 405.84 1226.22 407.79 1225.78 C409.74 1225.33 411.68 1224.84 413.61 1224.32 C415.54 1223.80 417.46 1223.24 419.37 1222.65 C421.28 1222.06 423.19 1221.45 425.08 1220.78 C426.96 1220.11 428.84 1219.42 430.68 1218.64 C432.52 1217.86 434.35 1217.03 436.11 1216.09 C437.88 1215.16 439.62 1214.15 441.26 1213.01 C442.89 1211.87 444.49 1210.63 445.91 1209.23 C447.32 1207.83 448.64 1206.28 449.76 1204.64 C450.87 1203.00 451.79 1201.19 452.62 1199.38 C453.46 1197.57 454.12 1195.67 454.76 1193.77 C455.40 1191.88 455.93 1189.95 456.45 1188.02 C456.98 1186.09 457.43 1184.14 457.90 1182.19 C458.36 1180.25 458.79 1178.29 459.23 1176.34 C459.66 1174.39 460.09 1172.43 460.52 1170.48 C460.94 1168.53 461.37 1166.57 461.80 1164.62 C462.23 1162.66 462.66 1160.71 463.09 1158.76 C463.52 1156.80 463.95 1154.85 464.37 1152.89 C464.79 1150.94 465.21 1148.98 465.62 1147.02 C466.03 1145.07 466.43 1143.11 466.83 1141.15 C467.22 1139.19 467.61 1137.22 468.00 1135.26 C468.38 1133.30 468.76 1131.33 469.12 1129.37 C469.49 1127.40 469.85 1125.43 470.20 1123.46 C470.56 1121.50 470.90 1119.53 471.24 1117.55 C471.58 1115.58 471.91 1113.61 472.23 1111.63 C472.55 1109.66 472.87 1107.69 473.17 1105.71 C473.48 1103.73 473.78 1101.75 474.07 1099.78 C474.37 1097.80 474.65 1095.82 474.93 1093.84 C475.21 1091.86 475.48 1089.87 475.75 1087.89 C476.01 1085.91 476.27 1083.92 476.52 1081.94 C476.77 1079.96 477.02 1077.97 477.26 1075.98 C477.50 1074.00 477.73 1072.01 477.96 1070.02 C478.18 1068.04 478.40 1066.05 478.62 1064.06 C478.84 1062.07 479.04 1060.08 479.25 1058.09 C479.45 1056.10 479.65 1054.11 479.84 1052.12 C480.04 1050.13 480.23 1048.14 480.41 1046.15 C480.59 1044.16 480.77 1042.16 480.95 1040.17 C481.12 1038.18 481.29 1036.18 481.46 1034.19 C481.62 1032.20 481.79 1030.20 481.95 1028.21 C482.11 1026.22 482.26 1024.22 482.42 1022.23 C482.57 1020.23 482.72 1018.24 482.87 1016.24 C483.01 1014.25 483.16 1012.25 483.30 1010.26 C483.44 1008.26 483.58 1006.27 483.72 1004.27 C483.86 1002.28 483.99 1000.28 484.13 998.29 C484.26 996.29 484.39 994.29 484.52 992.30 C484.65 990.30 484.78 988.31 484.90 986.31 C485.03 984.31 485.15 982.32 485.28 980.32 C485.40 978.32 485.52 976.33 485.64 974.33 C485.76 972.33 485.88 970.34 486.00 968.34 C486.12 966.34 486.23 964.35 486.35 962.35 C486.46 960.35 486.58 958.35 486.69 956.36 C486.81 954.36 486.92 952.36 487.03 950.37 C487.14 948.37 487.25 946.37 487.36 944.37 C487.47 942.38 487.58 940.38 487.69 938.38 C487.80 936.39 487.91 934.39 488.02 932.39 C488.13 930.39 488.23 928.40 488.34 926.40 C488.45 924.40 488.55 922.40 488.66 920.41 C488.76 918.41 488.87 916.41 488.97 914.41 C489.08 912.42 489.18 910.42 489.29 908.42 C489.39 906.42 489.50 904.43 489.60 902.43 C489.70 900.43 489.81 898.43 489.91 896.43 C490.01 894.44 490.12 892.44 490.22 890.44 C490.32 888.44 490.43 886.45 490.53 884.45 C490.63 882.45 490.73 880.45 490.84 878.46 C490.94 876.46 491.04 874.46 491.14 872.46 C491.25 870.47 491.35 868.47 491.45 866.47 C491.55 864.47 491.66 862.47 491.76 860.48 C491.86 858.48 491.96 856.48 492.07 854.48 C492.17 852.49 492.27 850.49 492.37 848.49 C492.48 846.49 492.58 844.50 492.68 842.50 C492.79 840.50 492.89 838.50 492.99 836.50 C493.10 834.51 493.20 832.51 493.30 830.51 C493.41 828.51 493.51 826.52 493.62 824.52 C493.72 822.52 493.82 820.52 493.93 818.53 C494.03 816.53 494.14 814.53 494.24 812.53 C494.35 810.54 494.45 808.54 494.56 806.54 C494.66 804.54 494.77 802.55 494.88 800.55 C494.98 798.55 495.09 796.55 495.20 794.56 C495.30 792.56 495.41 790.56 495.52 788.56 C495.62 786.57 495.73 784.57 495.84 782.57 C495.95 780.57 496.06 778.58 496.16 776.58 C496.27 774.58 496.38 772.59 496.49 770.59 C496.60 768.59 496.71 766.59 496.82 764.60 C496.93 762.60 497.04 760.60 497.15 758.60 C497.26 756.61 497.37 754.61 497.48 752.61 C497.59 750.61 497.70 748.62 497.81 746.62 C497.92 744.62 498.03 742.63 498.14 740.63 C498.25 738.63 498.36 736.63 498.47 734.64 C498.59 732.64 498.70 730.64 498.81 728.65 C498.92 726.65 499.03 724.65 499.15 722.65 C499.26 720.66 499.37 718.66 499.48 716.66 C499.59 714.67 499.71 712.67 499.82 710.67 C499.93 708.67 500.05 706.68 500.16 704.68 C500.27 702.68 500.39 700.69 500.50 698.69 C500.61 696.69 500.73 694.69 500.84 692.70 C500.95 690.70 501.07 688.70 501.18 686.71 C501.30 684.71 501.41 682.71 501.53 680.71 C501.64 678.72 501.76 676.72 501.87 674.72 C501.99 672.73 502.10 670.73 502.22 668.73 C502.33 666.74 502.45 664.74 502.56 662.74 C502.68 660.75 502.79 658.75 502.91 656.75 C503.03 654.75 503.14 652.76 503.26 650.76 C503.38 648.76 503.49 646.77 503.61 644.77 C503.73 642.77 503.84 640.78 503.96 638.78 C504.08 636.78 504.20 634.79 504.31 632.79 C504.43 630.79 504.55 628.79 504.67 626.80 C504.79 624.80 504.90 622.80 505.02 620.81 C505.14 618.81 505.26 616.81 505.38 614.82 C505.50 612.82 505.62 610.82 505.74 608.83 C505.86 606.83 505.98 604.83 506.10 602.84 C506.22 600.84 506.34 598.84 506.46 596.85 C506.58 594.85 506.70 592.85 506.82 590.86 C506.94 588.86 507.07 586.86 507.19 584.87 C507.31 582.87 507.43 580.87 507.56 578.88 C507.68 576.88 507.80 574.88 507.93 572.89 C508.05 570.89 508.17 568.90 508.30 566.90 C508.42 564.90 508.55 562.91 508.67 560.91 C508.80 558.91 508.92 556.92 509.05 554.92 C509.18 552.92 509.30 550.93 509.43 548.93 C509.56 546.94 509.68 544.94 509.81 542.94 C509.94 540.95 510.07 538.95 510.20 536.95 C510.33 534.96 510.46 532.96 510.59 530.97 C510.72 528.97 510.85 526.97 510.98 524.98 C511.11 522.98 511.24 520.99 511.38 518.99 C511.51 516.99 511.64 515.00 511.78 513.00 C511.91 511.01 512.05 509.01 512.18 507.02 C512.32 505.02 512.45 503.02 512.59 501.03 C512.73 499.03 512.87 497.04 513.01 495.04 C513.15 493.05 513.29 491.05 513.43 489.06 C513.57 487.06 513.71 485.07 513.86 483.07 C514.00 481.08 514.14 479.08 514.29 477.09 C514.44 475.09 514.58 473.10 514.73 471.10 C514.88 469.11 515.03 467.11 515.18 465.12 C515.33 463.12 515.49 461.13 515.64 459.13 C515.80 457.14 515.95 455.15 516.11 453.15 C516.27 451.16 516.43 449.16 516.59 447.17 C516.76 445.18 516.92 443.18 517.09 441.19 C517.25 439.20 517.42 437.20 517.60 435.21 C517.77 433.22 517.94 431.22 518.12 429.23 C518.30 427.24 518.48 425.25 518.66 423.26 C518.85 421.26 519.03 419.27 519.22 417.28 C519.42 415.29 519.61 413.30 519.81 411.31 C520.01 409.32 520.21 407.33 520.42 405.34 C520.63 403.35 520.84 401.36 521.06 399.37 C521.28 397.38 521.51 395.40 521.74 393.41 C521.97 391.42 522.21 389.44 522.46 387.45 C522.71 385.47 522.97 383.48 523.23 381.50 C523.50 379.52 523.78 377.54 524.07 375.56 C524.36 373.58 524.67 371.60 524.99 369.63 C525.32 367.66 525.65 365.68 526.02 363.72 C526.39 361.75 526.77 359.79 527.21 357.84 C527.65 355.89 528.09 353.93 528.66 352.01 C529.23 350.10 529.70 347.96 530.63 346.35 C531.57 344.74 533.04 342.25 534.30 342.34 C535.56 342.44 537.24 345.21 538.20 346.92 C539.17 348.64 539.54 350.70 540.09 352.62 C540.63 354.54 541.07 356.50 541.50 358.45 C541.93 360.40 542.30 362.37 542.66 364.34 C543.03 366.30 543.36 368.28 543.68 370.25 C544.00 372.22 544.30 374.20 544.59 376.18 C544.89 378.16 545.16 380.14 545.43 382.12 C545.69 384.11 545.95 386.09 546.20 388.07 C546.45 390.06 546.69 392.05 546.92 394.03 C547.15 396.02 547.38 398.01 547.60 399.99 C547.82 401.98 548.04 403.97 548.25 405.96 C548.46 407.95 548.66 409.94 548.86 411.93 C549.06 413.92 549.26 415.91 549.45 417.90 C549.65 419.89 549.84 421.88 550.02 423.87 C550.21 425.87 550.39 427.86 550.57 429.85 C550.75 431.84 550.93 433.84 551.10 435.83 C551.27 437.82 551.44 439.81 551.61 441.81 C551.78 443.80 551.95 445.79 552.11 447.79 C552.28 449.78 552.44 451.77 552.60 453.77 C552.76 455.76 552.92 457.76 553.07 459.75 C553.23 461.74 553.39 463.74 553.54 465.73 C553.69 467.73 553.84 469.72 553.99 471.72 C554.14 473.71 554.29 475.71 554.44 477.70 C554.59 479.70 554.73 481.69 554.87 483.69 C555.02 485.68 555.16 487.68 555.30 489.67 C555.45 491.67 555.59 493.66 555.73 495.66 C555.87 497.65 556.00 499.65 556.14 501.64 C556.28 503.64 556.42 505.64 556.55 507.63 C556.69 509.63 556.82 511.62 556.95 513.62 C557.09 515.61 557.22 517.61 557.35 519.61 C557.48 521.60 557.62 523.60 557.75 525.59 C557.88 527.59 558.01 529.59 558.13 531.58 C558.26 533.58 558.39 535.58 558.52 537.57 C558.65 539.57 558.77 541.56 558.90 543.56 C559.02 545.56 559.15 547.55 559.27 549.55 C559.40 551.55 559.52 553.54 559.65 555.54 C559.77 557.54 559.89 559.53 560.02 561.53 C560.14 563.52 560.26 565.52 560.38 567.52 C560.50 569.51 560.63 571.51 560.75 573.51 C560.87 575.50 560.99 577.50 561.11 579.50 C561.23 581.49 561.34 583.49 561.46 585.49 C561.58 587.49 561.70 589.48 561.82 591.48 C561.94 593.48 562.05 595.47 562.17 597.47 C562.29 599.47 562.41 601.46 562.52 603.46 C562.64 605.46 562.75 607.45 562.87 609.45 C562.99 611.45 563.10 613.44 563.22 615.44 C563.33 617.44 563.45 619.44 563.56 621.43 C563.68 623.43 563.79 625.43 563.91 627.42 C564.02 629.42 564.13 631.42 564.25 633.41 C564.36 635.41 564.47 637.41 564.59 639.41 C564.70 641.40 564.81 643.40 564.93 645.40 C565.04 647.39 565.15 649.39 565.26 651.39 C565.38 653.39 565.49 655.38 565.60 657.38 C565.71 659.38 565.82 661.37 565.94 663.37 C566.05 665.37 566.16 667.37 566.27 669.36 C566.38 671.36 566.49 673.36 566.60 675.35 C566.72 677.35 566.83 679.35 566.94 681.35 C567.05 683.34 567.16 685.34 567.27 687.34 C567.38 689.34 567.49 691.33 567.60 693.33 C567.71 695.33 567.82 697.32 567.93 699.32 C568.04 701.32 568.15 703.32 568.26 705.31 C568.37 707.31 568.48 709.31 568.59 711.31 C568.70 713.30 568.81 715.30 568.92 717.30 C569.03 719.29 569.14 721.29 569.25 723.29 C569.36 725.29 569.47 727.28 569.58 729.28 C569.69 731.28 569.80 733.28 569.91 735.27 C570.02 737.27 570.13 739.27 570.24 741.27 C570.34 743.26 570.45 745.26 570.56 747.26 C570.67 749.25 570.78 751.25 570.89 753.25 C571.00 755.25 571.11 757.24 571.22 759.24 C571.33 761.24 571.44 763.24 571.55 765.23 C571.66 767.23 571.77 769.23 571.88 771.22 C571.99 773.22 572.10 775.22 572.21 777.22 C572.31 779.21 572.42 781.21 572.53 783.21 C572.64 785.21 572.75 787.20 572.86 789.20 C572.97 791.20 573.08 793.20 573.19 795.19 C573.30 797.19 573.41 799.19 573.52 801.18 C573.63 803.18 573.74 805.18 573.85 807.18 C573.96 809.17 574.07 811.17 574.18 813.17 C574.29 815.17 574.40 817.16 574.51 819.16 C574.63 821.16 574.74 823.15 574.85 825.15 C574.96 827.15 575.07 829.15 575.18 831.14 C575.29 833.14 575.40 835.14 575.51 837.13 C575.62 839.13 575.74 841.13 575.85 843.13 C575.96 845.12 576.07 847.12 576.18 849.12 C576.30 851.11 576.41 853.11 576.52 855.11 C576.63 857.11 576.75 859.10 576.86 861.10 C576.97 863.10 577.09 865.09 577.20 867.09 C577.31 869.09 577.43 871.09 577.54 873.08 C577.66 875.08 577.77 877.08 577.89 879.07 C578.00 881.07 578.12 883.07 578.23 885.06 C578.35 887.06 578.46 889.06 578.58 891.06 C578.70 893.05 578.81 895.05 578.93 897.05 C579.05 899.04 579.17 901.04 579.28 903.04 C579.40 905.03 579.52 907.03 579.64 909.03 C579.76 911.02 579.88 913.02 580.00 915.02 C580.12 917.01 580.24 919.01 580.36 921.01 C580.48 923.00 580.60 925.00 580.72 927.00 C580.84 928.99 580.97 930.99 581.09 932.99 C581.21 934.98 581.34 936.98 581.46 938.98 C581.59 940.97 581.71 942.97 581.84 944.97 C581.96 946.96 582.09 948.96 582.22 950.95 C582.34 952.95 582.47 954.95 582.60 956.94 C582.73 958.94 582.86 960.94 582.99 962.93 C583.12 964.93 583.25 966.92 583.38 968.92 C583.52 970.92 583.65 972.91 583.78 974.91 C583.92 976.90 584.05 978.90 584.19 980.89 C584.33 982.89 584.46 984.89 584.60 986.88 C584.74 988.88 584.88 990.87 585.02 992.87 C585.16 994.86 585.30 996.86 585.45 998.85 C585.59 1000.85 585.74 1002.84 585.88 1004.84 C586.03 1006.83 586.18 1008.83 586.32 1010.82 C586.47 1012.82 586.62 1014.81 586.78 1016.81 C586.93 1018.80 587.08 1020.80 587.24 1022.79 C587.39 1024.78 587.55 1026.78 587.71 1028.77 C587.87 1030.77 588.03 1032.76 588.19 1034.75 C588.35 1036.75 588.52 1038.74 588.69 1040.73 C588.85 1042.73 589.02 1044.72 589.20 1046.71 C589.37 1048.71 589.54 1050.70 589.72 1052.69 C589.90 1054.68 590.07 1056.68 590.26 1058.67 C590.44 1060.66 590.62 1062.65 590.81 1064.64 C591.00 1066.63 591.19 1068.63 591.39 1070.62 C591.58 1072.61 591.78 1074.60 591.98 1076.59 C592.18 1078.58 592.39 1080.57 592.60 1082.56 C592.81 1084.55 593.02 1086.54 593.24 1088.52 C593.46 1090.51 593.68 1092.50 593.91 1094.49 C594.13 1096.47 594.37 1098.46 594.60 1100.45 C594.84 1102.43 595.08 1104.42 595.33 1106.40 C595.58 1108.39 595.84 1110.37 596.10 1112.36 C596.36 1114.34 596.63 1116.32 596.91 1118.30 C597.18 1120.28 597.47 1122.26 597.76 1124.24 C598.05 1126.22 598.35 1128.20 598.67 1130.17 C598.98 1132.15 599.30 1134.12 599.63 1136.10 C599.96 1138.07 600.31 1140.04 600.66 1142.01 C601.02 1143.98 601.39 1145.94 601.78 1147.90 C602.16 1149.87 602.56 1151.83 602.98 1153.78 C603.40 1155.74 603.83 1157.69 604.29 1159.64 C604.74 1161.59 605.22 1163.53 605.72 1165.47 C606.22 1167.40 606.75 1169.33 607.31 1171.26 C607.86 1173.18 608.44 1175.09 609.07 1176.99 C609.69 1178.89 610.34 1180.78 611.04 1182.66 C611.74 1184.53 612.47 1186.39 613.27 1188.23 C614.06 1190.06 614.90 1191.88 615.81 1193.67 C616.71 1195.45 617.66 1197.22 618.69 1198.92 C619.73 1200.63 620.83 1202.32 622.01 1203.92 C623.20 1205.53 624.46 1207.10 625.81 1208.57 C627.16 1210.04 628.59 1211.45 630.10 1212.75 C631.62 1214.05 633.22 1215.27 634.88 1216.38 C636.54 1217.49 638.28 1218.50 640.06 1219.41 C641.83 1220.32 643.68 1221.12 645.54 1221.84 C647.40 1222.57 649.31 1223.19 651.23 1223.75 C653.14 1224.31 655.09 1224.78 657.05 1225.20 C659.00 1225.62 660.97 1225.97 662.95 1226.28 C664.92 1226.59 666.91 1226.84 668.90 1227.07 C670.88 1227.30 672.88 1227.49 674.87 1227.66 C676.86 1227.82 678.86 1227.96 680.86 1228.09 C682.85 1228.21 684.85 1228.32 686.85 1228.41 C688.85 1228.51 690.84 1228.59 692.84 1228.66 C694.84 1228.73 696.84 1228.79 698.84 1228.85 C700.84 1228.90 702.84 1228.95 704.84 1229.00 C706.84 1229.04 708.84 1229.08 710.84 1229.11 C712.84 1229.15 714.84 1229.18 716.84 1229.21 C718.84 1229.24 720.84 1229.26 722.84 1229.28 C724.84 1229.31 726.84 1229.33 728.84 1229.34 C730.84 1229.36 732.84 1229.38 734.84 1229.40 C736.84 1229.41 738.84 1229.43 740.84 1229.44 C742.84 1229.46 744.84 1229.47 746.84 1229.49 C748.84 1229.51 750.84 1229.53 752.84 1229.55 C754.84 1229.56 756.84 1229.58 758.84 1229.60 C760.84 1229.62 762.84 1229.64 764.85 1229.65 C766.85 1229.67 768.85 1229.70 770.85 1229.71 C772.85 1229.72 774.85 1229.73 776.85 1229.73 C778.85 1229.73 780.85 1229.73 782.85 1229.73 C784.85 1229.73 786.85 1229.73 788.85 1229.73 C790.85 1229.73 792.85 1229.73 794.85 1229.73 C796.85 1229.73 798.85 1229.73 800.85 1229.73 C802.85 1229.73 804.85 1229.73 806.85 1229.73 C808.85 1229.73 810.85 1229.73 812.85 1229.73 C814.85 1229.73 816.85 1229.73 818.85 1229.73 C820.85 1229.73 822.85 1229.73 824.85 1229.73 C826.85 1229.73 828.85 1229.73 830.85 1229.73 C832.86 1229.73 834.86 1229.73 836.86 1229.73 C838.86 1229.73 840.86 1229.73 842.86 1229.73 C844.86 1229.73 846.86 1229.73 848.86 1229.73 C850.86 1229.73 852.86 1229.73 854.86 1229.73 C856.86 1229.73 858.86 1229.73 860.86 1229.73 C862.86 1229.73 864.86 1229.73 866.86 1229.73 C868.86 1229.73 870.86 1229.73 872.86 1229.73 C874.86 1229.73 876.86 1229.73 878.86 1229.73 C880.86 1229.73 882.86 1229.73 884.86 1229.73 C886.86 1229.73 888.86 1229.73 890.86 1229.73 C892.86 1229.73 894.86 1229.73 896.86 1229.73 C898.87 1229.73 900.87 1229.73 902.87 1229.73 C904.87 1229.73 906.87 1229.73 908.87 1229.73 C910.87 1229.73 912.87 1229.73 914.87 1229.73 C916.87 1229.73 918.87 1229.73 920.87 1229.73 C922.87 1229.73 924.87 1229.73 926.87 1229.73 C928.87 1229.73 930.87 1229.73 932.87 1229.73 C934.87 1229.73 936.87 1229.73 938.87 1229.73 C940.87 1229.73 942.87 1229.73 944.87 1229.73 C946.87 1229.73 948.87 1229.73 950.87 1229.73 C952.87 1229.73 954.87 1229.73 956.87 1229.73 C958.87 1229.73 960.87 1229.73 962.87 1229.73 C964.88 1229.73 966.88 1229.73 968.88 1229.73 C970.88 1229.73 972.88 1229.73 974.88 1229.73 C976.88 1229.73 978.88 1229.73 980.88 1229.73 C982.88 1229.73 984.88 1229.73 986.88 1229.73 C988.88 1229.73 990.88 1229.73 992.88 1229.73 C994.88 1229.73 996.88 1229.73 998.88 1229.73 C1000.88 1229.73 1002.88 1229.73 1004.88 1229.73 C1006.88 1229.73 1008.88 1229.73 1010.88 1229.73 C1012.88 1229.73 1014.88 1229.73 1016.88 1229.73 C1018.88 1229.73 1020.88 1229.73 1022.88 1229.73 C1024.88 1229.73 1026.88 1229.73 1028.88 1229.73 C1030.89 1229.73 1032.89 1229.73 1034.89 1229.73 C1036.89 1229.73 1038.89 1229.73 1040.89 1229.73 C1042.89 1229.73 1044.89 1229.73 1046.89 1229.73 C1048.89 1229.73 1050.89 1229.73 1052.89 1229.73 C1054.89 1229.73 1056.89 1229.73 1058.89 1229.73 C1060.89 1229.73 1062.89 1229.73 1064.89 1229.73 C1066.89 1229.73 1068.89 1229.73 1070.89 1229.73 C1072.89 1229.73 1074.89 1229.73 1076.89 1229.73 C1078.89 1229.73 1080.89 1229.73 1082.89 1229.73 C1084.89 1229.73 1086.89 1229.73 1088.89 1229.73 C1090.89 1229.73 1092.89 1229.73 1094.90 1229.73 C1096.90 1229.73 1098.90 1229.73 1100.90 1229.73 C1102.90 1229.73 1104.90 1229.73 1106.90 1229.73 C1108.90 1229.73 1110.90 1229.73 1112.90 1229.73 C1114.90 1229.73 1116.90 1229.73 1118.90 1229.73 C1120.90 1229.73 1122.90 1229.73 1124.90 1229.73 C1126.90 1229.73 1128.90 1229.73 1130.90 1229.73 C1132.90 1229.73 1134.90 1229.73 1136.90 1229.73 C1138.90 1229.73 1140.90 1229.73 1142.90 1229.73 C1144.90 1229.73 1146.90 1229.73 1148.90 1229.73 C1150.90 1229.73 1152.90 1229.73 1154.90 1229.73 C1156.90 1229.73 1158.90 1229.73 1160.91 1229.73 C1162.91 1229.73 1164.91 1229.73 1166.91 1229.73 C1168.91 1229.73 1170.91 1229.73 1172.91 1229.73 C1174.91 1229.73 1176.91 1229.73 1178.91 1229.73 C1180.91 1229.73 1182.91 1229.73 1184.91 1229.73 C1186.91 1229.73 1188.91 1229.73 1190.91 1229.73 C1192.91 1229.73 1194.91 1229.73 1196.91 1229.73 C1198.91 1229.73 1200.91 1229.73 1202.91 1229.73 C1204.91 1229.73 1206.91 1229.73 1208.91 1229.73 C1210.91 1229.73 1212.91 1229.73 1214.91 1229.73 C1216.91 1229.73 1218.91 1229.73 1220.91 1229.73 C1222.91 1229.73 1224.91 1229.73 1226.92 1229.73 C1228.92 1229.73 1230.92 1229.73 1232.92 1229.73 C1234.92 1229.73 1236.92 1229.73 1238.92 1229.73 C1240.92 1229.73 1242.92 1229.73 1244.92 1229.73 C1246.92 1229.73 1248.92 1229.73 1250.92 1229.73 C1252.92 1229.73 1254.92 1229.73 1256.92 1229.73 C1258.92 1229.73 1260.92 1229.73 1262.92 1229.73 C1264.92 1229.73 1266.92 1229.73 1268.92 1229.73 C1270.92 1229.73 1272.92 1229.73 1274.92 1229.73 C1276.92 1229.73 1278.92 1229.73 1280.92 1229.73 C1282.92 1229.73 1284.92 1229.73 1286.92 1229.73 C1288.92 1229.73 1290.92 1229.73 1292.93 1229.73 C1294.93 1229.73 1296.93 1229.73 1298.93 1229.73 C1300.93 1229.73 1302.93 1229.73 1304.93 1229.73 C1306.93 1229.73 1308.93 1229.73 1310.93 1229.73 C1312.93 1229.73 1314.93 1229.73 1316.93 1229.73 C1318.93 1229.73 1320.93 1229.73 1322.93 1229.73 C1324.93 1229.73 1326.93 1229.73 1328.93 1229.73 C1330.93 1229.73 1332.93 1229.73 1334.93 1229.73 C1336.93 1229.73 1338.93 1229.73 1340.93 1229.73 C1342.93 1229.73 1344.93 1229.73 1346.93 1229.73 C1348.93 1229.73 1350.93 1229.73 1352.93 1229.73 C1354.93 1229.73 1356.93 1229.73 1358.94 1229.73 C1360.94 1229.73 1362.94 1229.73 1364.94 1229.73 C1366.94 1229.73 1368.94 1229.73 1370.94 1229.73 C1372.94 1229.73 1374.94 1229.73 1376.94 1229.73 C1378.94 1229.73 1380.94 1229.73 1382.94 1229.73 C1384.94 1229.73 1386.94 1229.73 1388.94 1229.73 C1390.94 1229.73 1392.94 1229.73 1394.94 1229.73 C1396.94 1229.73 1398.94 1229.73 1400.94 1229.73 C1402.94 1229.73 1404.94 1229.73 1406.94 1229.73 C1408.94 1229.73 1410.94 1229.73 1412.94 1229.73 C1414.94 1229.73 1416.94 1229.73 1418.94 1229.73 C1420.94 1229.73 1422.94 1229.73 1424.95 1229.73 C1426.95 1229.73 1428.95 1229.73 1430.95 1229.73 C1432.95 1229.73 1434.95 1229.73 1436.95 1229.73 C1438.95 1229.73 1440.95 1229.73 1442.95 1229.73 C1444.95 1229.73 1446.95 1229.73 1448.95 1229.73 C1450.95 1229.73 1452.95 1229.73 1454.95 1229.73 C1456.95 1229.73 1458.95 1229.73 1460.95 1229.73 C1462.95 1229.73 1464.95 1229.73 1466.95 1229.73 C1468.95 1229.73 1470.95 1229.73 1472.95 1229.73 C1474.95 1229.73 1476.95 1229.73 1478.95 1229.73 C1480.95 1229.73 1482.95 1229.73 1484.95 1229.73 C1486.95 1229.73 1488.95 1229.73 1490.96 1229.73 C1492.96 1229.73 1494.96 1229.73 1496.96 1229.73 C1498.96 1229.73 1500.96 1229.73 1502.96 1229.73 C1504.96 1229.73 1506.96 1229.73 1508.96 1229.73 C1510.96 1229.73 1512.96 1229.73 1514.96 1229.73 C1516.96 1229.73 1518.96 1229.73 1520.96 1229.73 C1522.96 1229.73 1524.96 1229.73 1526.96 1229.73 C1528.96 1229.73 1530.96 1229.73 1532.96 1229.73 C1534.96 1229.73 1536.96 1229.73 1538.96 1229.73 C1540.96 1229.73 1542.96 1229.73 1544.96 1229.73 C1546.96 1229.73 1548.96 1229.73 1550.96 1229.73 C1552.96 1229.73 1554.97 1229.73 1556.97 1229.73 C1558.97 1229.73 1560.97 1229.73 1562.97 1229.73 C1564.97 1229.73 1566.97 1229.73 1568.97 1229.73 C1570.97 1229.73 1572.97 1229.73 1574.97 1229.73 C1576.97 1229.73 1578.97 1229.73 1580.97 1229.73 C1582.97 1229.73 1584.97 1229.73 1586.97 1229.73 C1588.97 1229.73 1590.97 1229.73 1592.97 1229.73 C1594.97 1229.73 1596.97 1229.73 1598.97 1229.73 C1600.97 1229.73 1602.97 1229.73 1604.97 1229.73 C1606.97 1229.73 1608.97 1229.73 1610.97 1229.73 C1612.97 1229.73 1614.97 1229.73 1616.97 1229.73 C1618.97 1229.73 1620.98 1229.73 1622.98 1229.73 C1624.98 1229.73 1626.98 1229.73 1628.98 1229.73 C1630.98 1229.73 1632.98 1229.73 1634.98 1229.73 C1636.98 1229.73 1638.98 1229.73 1640.98 1229.73 C1642.98 1229.73 1644.98 1229.73 1646.98 1229.73 C1648.98 1229.73 1650.98 1229.73 1652.98 1229.73 C1654.98 1229.73 1656.98 1229.73 1658.98 1229.73 C1660.98 1229.73 1662.98 1229.73 1664.98 1229.73 C1666.98 1229.73 1668.98 1229.73 1670.98 1229.73 C1672.98 1229.73 1674.98 1229.73 1676.98 1229.73 C1678.98 1229.73 1680.98 1229.73 1682.98 1229.73 C1684.98 1229.73 1686.99 1229.73 1688.99 1229.73 C1690.99 1229.73 1692.99 1229.73 1694.99 1229.73 C1696.99 1229.73 1698.99 1229.73 1700.99 1229.73 C1702.99 1229.73 1704.99 1229.73 1706.99 1229.73 C1708.99 1229.73 1710.99 1229.73 1712.99 1229.73 C1714.99 1229.73 1716.99 1229.73 1718.99 1229.73 C1720.99 1229.73 1722.99 1229.73 1724.99 1229.73 C1726.99 1229.73 1728.99 1229.73 1730.99 1229.73 C1732.99 1229.73 1734.99 1229.73 1736.99 1229.73 C1738.99 1229.73 1740.99 1229.73 1742.99 1229.73 C1744.99 1229.73 1746.99 1229.73 1748.99 1229.73 C1750.99 1229.73 1753.00 1229.73 1755.00 1229.73 C1757.00 1229.73 1759.00 1229.73 1761.00 1229.73 C1763.00 1229.73 1765.00 1229.73 1767.00 1229.73 C1769.00 1229.73 1771.00 1229.73 1773.00 1229.73 C1775.00 1229.73 1777.00 1229.73 1779.00 1229.73 C1781.00 1229.73 1784.00 1229.73 1785.00 1229.73"/>
</g></g>
<g fill="#000" shape-rendering="crispEdges">
<rect x="216" y="46" width="6" height="1330"/>
<rect x="1773" y="46" width="6" height="1330"/>
<rect x="216" y="46" width="1563" height="7"/>
<rect x="216" y="1370" width="1563" height="6"/>
</g>
<g fill="#000">
<rect x="221" y="1364.3" width="19" height="6.6"/>
<rect x="221" y="1254.5" width="9" height="6.6"/>
<rect x="221" y="1144.7" width="19" height="6.6"/>
<rect x="221" y="1034.9" width="9" height="6.6"/>
<rect x="221" y="925.1" width="19" height="6.6"/>
<rect x="221" y="815.2" width="9" height="6.6"/>
<rect x="221" y="705.4" width="19" height="6.6"/>
<rect x="221" y="595.6" width="9" height="6.6"/>
<rect x="221" y="485.8" width="19" height="6.6"/>
<rect x="221" y="376.0" width="9" height="6.6"/>
<rect x="221" y="266.2" width="19" height="6.6"/>
<rect x="221" y="156.4" width="9" height="6.6"/>
<rect x="307.7" y="1350" width="6.6" height="21"/>
<rect x="399.3" y="1361" width="6.6" height="10"/>
<rect x="490.8" y="1350" width="6.6" height="21"/>
<rect x="582.4" y="1361" width="6.6" height="10"/>
<rect x="673.9" y="1350" width="6.6" height="21"/>
<rect x="765.5" y="1361" width="6.6" height="10"/>
<rect x="857.0" y="1350" width="6.6" height="21"/>
<rect x="948.5" y="1361" width="6.6" height="10"/>
<rect x="1040.1" y="1350" width="6.6" height="21"/>
<rect x="1131.6" y="1361" width="6.6" height="10"/>
<rect x="1223.2" y="1350" width="6.6" height="21"/>
<rect x="1314.7" y="1361" width="6.6" height="10"/>
<rect x="1406.2" y="1350" width="6.6" height="21"/>
<rect x="1497.8" y="1361" width="6.6" height="10"/>
<rect x="1589.3" y="1350" width="6.6" height="21"/>
<rect x="1680.9" y="1361" width="6.6" height="10"/>
</g>
<text transform="matrix(0.5167 0 0 0.5774 132.23 1380.75)" font-size="100" stroke="#fff" stroke-width="1.65">0.0</text>
<text transform="matrix(0.5165 0 0 0.5774 131.24 1161.13)" font-size="100" stroke="#fff" stroke-width="1.65">0.4</text>
<text transform="matrix(0.5166 0 0 0.5774 131.99 941.50)" font-size="100" stroke="#fff" stroke-width="1.65">0.8</text>
<text transform="matrix(0.5360 0 0 0.5800 130.16 721.88)" font-size="100" stroke="#fff" stroke-width="1.61">1.2</text>
<text transform="matrix(0.5295 0 0 0.5800 130.21 502.25)" font-size="100" stroke="#fff" stroke-width="1.62">1.6</text>
<text transform="matrix(0.5167 0 0 0.5774 132.23 282.63)" font-size="100" stroke="#fff" stroke-width="1.65">2.0</text>
<text transform="matrix(0.5166 0 0 0.5800 131.24 63.01)" font-size="100" stroke="#fff" stroke-width="1.64">2.4</text>
<text transform="matrix(0.5136 0 0 0.5789 285.75 1436.95)" font-size="100" stroke="#fff" stroke-width="1.65">40</text>
<text transform="matrix(0.5228 0 0 0.5789 467.96 1436.95)" font-size="100" stroke="#fff" stroke-width="1.63">60</text>
<text transform="matrix(0.5158 0 0 0.5789 651.24 1436.95)" font-size="100" stroke="#fff" stroke-width="1.64">80</text>
<text transform="matrix(0.5355 0 0 0.5789 818.76 1436.95)" font-size="100" stroke="#fff" stroke-width="1.62">100</text>
<text transform="matrix(0.5326 0 0 0.5789 1002.58 1436.95)" font-size="100" stroke="#fff" stroke-width="1.62">120</text>
<text transform="matrix(0.5333 0 0 0.5789 1185.48 1436.95)" font-size="100" stroke="#fff" stroke-width="1.62">140</text>
<text transform="matrix(0.5305 0 0 0.5789 1368.50 1436.95)" font-size="100" stroke="#fff" stroke-width="1.62">160</text>
<text transform="matrix(0.5312 0 0 0.5789 1552.00 1436.95)" font-size="100" stroke="#fff" stroke-width="1.62">180</text>
<text transform="matrix(0.5176 0 0 0.5789 1735.88 1436.95)" font-size="100" stroke="#fff" stroke-width="1.64">200</text>
<text transform="matrix(0.7551 0 0 0.8308 628.37 1536.55)" font-size="100" stroke="#fff" stroke-width="1.14">Temperature (°C)</text>
<text transform="matrix(0 -0.8146 0.7728 0 88.55 984.24)" font-size="100" stroke="#fff" stroke-width="1.13">Heat flow (W/g)</text>
<text transform="matrix(0 -0.7873 0.7896 0 1851.35 299.00)" font-size="100" stroke="#fff" stroke-width="1.14">Exo</text>
<rect x="1834.8" y="80" width="4.4" height="67.5" fill="#000"/>
<path d="M1837 52.4 L1845.4 82.3 L1828.6 82.3 Z" fill="#000"/>
<rect x="1210" y="64" width="548" height="335" fill="#000"/>
<rect x="1214" y="67" width="540" height="329" fill="#fff"/>
<rect x="1218" y="105.0" width="136" height="10" fill="#515151"/>
<text transform="matrix(0.5277 0 0 0.5847 1363.42 131.45)" font-size="100" stroke="#fff" stroke-width="1.62">1-MI</text>
<rect x="1218" y="186.0" width="136" height="10" fill="#F14040"/>
<text transform="matrix(0.5092 0 0 0.5865 1368.65 212.85)" font-size="100" stroke="#fff" stroke-width="1.64">DPETMP 30wt%</text>
<rect x="1218" y="268.0" width="136" height="9" fill="#1A6FDF"/>
<text transform="matrix(0.5073 0 0 0.5834 1365.76 294.05)" font-size="100" stroke="#fff" stroke-width="1.65">TFPH 30wt%</text>
<rect x="1218" y="349.0" width="136" height="9" fill="#37AD6B"/>
<text transform="matrix(0.5081 0 0 0.5834 1365.76 374.45)" font-size="100" stroke="#fff" stroke-width="1.65">TFPM 30wt%</text>
<rect x="345.4" y="1192.0" width="3.4" height="87.0" fill="#FF00FF"/>
<path d="M338.8 1278.0 L355.4 1278.0 L347.1 1311.0 Z" fill="#FF00FF"/>
<text transform="matrix(0.6005 0 0 0.5884 332.01 1339.88)" font-size="100" stroke="#fff" stroke-width="1.51">o</text>
<rect x="420.7" y="1200.0" width="3.4" height="84.0" fill="#FF00FF"/>
<path d="M414.1 1283.0 L430.7 1283.0 L422.4 1319.0 Z" fill="#FF00FF"/>
<text transform="matrix(0.6040 0 0 0.5905 406.95 1348.17)" font-size="100" stroke="#fff" stroke-width="1.51">o</text>
<rect x="541.8" y="1205.0" width="3.4" height="84.0" fill="#FF00FF"/>
<path d="M535.2 1288.0 L551.8 1288.0 L543.5 1325.0 Z" fill="#FF00FF"/>
<text transform="matrix(0.5969 0 0 0.5739 530.18 1352.69)" font-size="100" stroke="#fff" stroke-width="1.54">o</text>
<rect x="820.9" y="1193.0" width="3.4" height="84.5" fill="#FF00FF"/>
<path d="M814.3 1276.5 L830.9 1276.5 L822.6 1312.0 Z" fill="#FF00FF"/>
<text transform="matrix(0.5969 0 0 0.5884 809.18 1341.08)" font-size="100" stroke="#fff" stroke-width="1.52">o</text>
</svg>
</body>
</html>
